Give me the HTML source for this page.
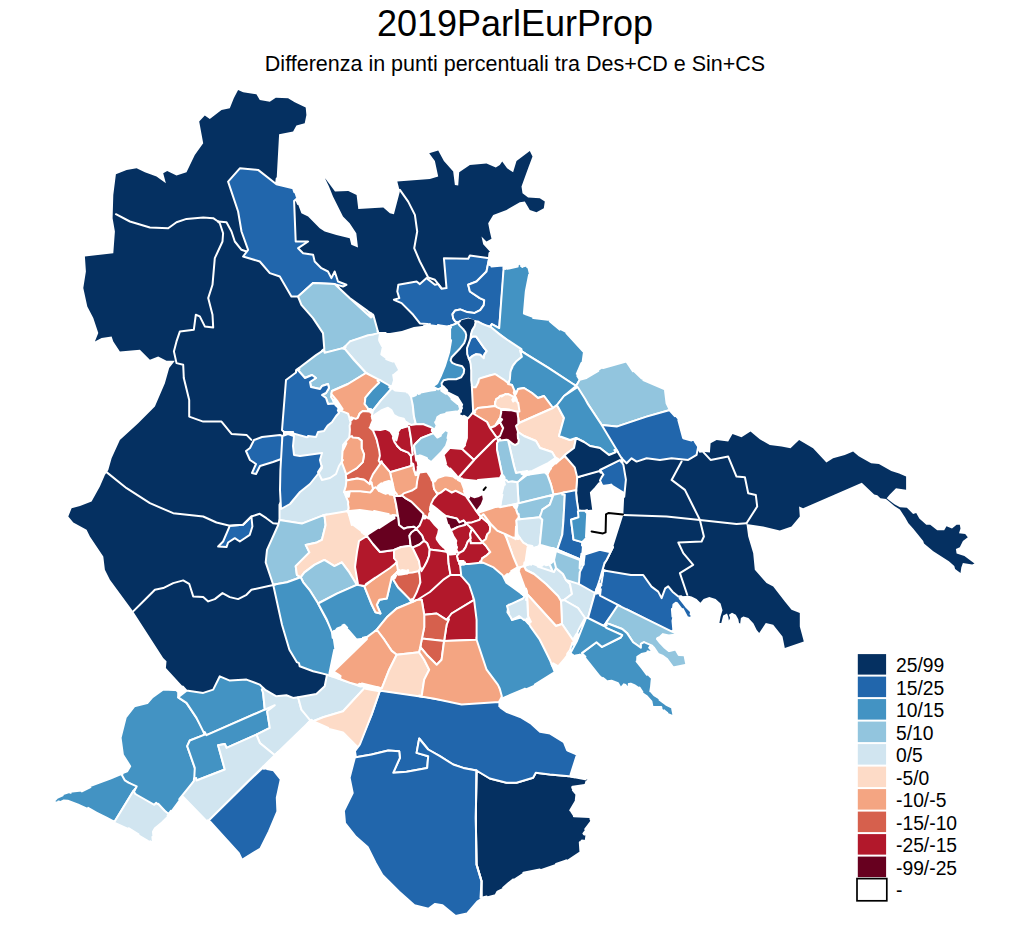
<!DOCTYPE html>
<html><head><meta charset="utf-8"><title>2019ParlEurProp</title>
<style>
html,body{margin:0;padding:0;background:#fff;}
body{width:1030px;height:926px;position:relative;overflow:hidden;font-family:"Liberation Sans",sans-serif;color:#000;}
.t{position:absolute;white-space:nowrap;line-height:1;}
#title{left:0;width:1030px;text-align:center;top:5.5px;font-size:36px;}
#sub{left:0;width:1030px;text-align:center;top:54px;font-size:21.5px;}
.lg{left:896px;font-size:19.3px;}
</style></head><body>
<svg width="1030" height="926" viewBox="0 0 1030 926" style="position:absolute;left:0;top:0">
<g stroke-linejoin="round" stroke-linecap="round">
<polygon points="163.2,658.0 133.2,611.4 109.9,579.8 104.9,569.8 103.3,556.5 89.9,536.5 86.6,529.8 73.3,522.5 68.3,516.5 71.6,508.2 80.0,505.9 91.6,501.5 99.9,486.5 104.9,474.9 108.3,469.9 111.6,458.2 119.9,439.9 138.2,423.3 154.9,406.6 164.9,383.3 169.2,368.1 174.9,360.7 166.5,360.7 158.2,356.4 149.9,359.7 139.9,349.7 119.9,351.4 113.3,341.4 111.6,336.4 101.6,338.1 94.9,341.4 98.3,333.1 93.3,318.1 87.3,306.4 83.3,288.1 85.9,271.5 84.9,256.5 113.3,253.2 114.9,231.5 112.6,218.2 113.3,194.9 115.9,174.2 126.6,169.9 136.6,168.3 144.9,172.2 156.5,176.6 165.9,183.2 163.2,173.2 167.2,170.9 176.5,175.6 186.5,172.2 194.8,154.9 203.2,143.3 199.2,121.6 204.8,115.6 209.8,119.0 221.5,110.0 229.8,108.3 233.8,98.3 238.1,90.0 243.1,92.3 256.4,94.3 259.8,100.0 269.8,101.7 275.8,97.7 288.1,98.3 294.7,102.3 305.7,107.6 306.4,115.0 304.7,123.3 296.4,125.6 293.1,131.6 279.1,134.3 276.4,183.2 263.1,218.2 296.4,284.8 329.7,344.7 296.4,370.0 293.1,393.3 293.1,459.9 286.4,509.9 276.4,559.8 286.4,609.8 296.4,653.0 299.7,666.3 313.1,671.3 327.0,674.6 324.7,686.3 316.4,693.9 298.1,697.3 293.1,697.9 286.4,695.3 276.4,696.3 264.8,689.6 259.8,684.6 246.5,679.6 229.8,680.6 219.8,676.3 213.2,689.6 203.2,692.9 186.5,690.6 165.9,668.0 166.5,661.3" fill="#053061" stroke="none"/>
<polygon points="294.1,200.9 296.4,199.9 301.4,213.2 308.1,216.5 319.7,228.2 324.7,231.5 336.4,234.9 349.7,238.2 351.3,244.8 358.0,247.5 356.3,233.2 349.7,223.2 343.0,216.5 333.0,196.6 329.0,186.6 325.0,178.2 325.7,178.9 335.0,191.6 348.3,190.9 356.6,194.9 358.3,208.9 383.3,207.5 389.9,213.2 393.9,214.2 399.9,191.6 397.3,181.6 429.9,178.9 438.2,176.6 434.9,160.9 429.2,153.3 438.2,150.6 443.9,160.9 453.2,171.6 454.9,184.9 458.2,185.6 459.2,172.2 469.9,164.9 486.5,163.6 495.8,167.6 499.8,164.9 502.2,161.6 507.1,168.3 513.1,172.2 516.5,160.9 529.8,150.9 532.5,156.6 528.1,168.3 521.5,186.6 522.5,193.2 528.1,197.6 539.8,198.2 544.8,201.6 543.8,208.2 536.5,212.2 529.8,209.9 524.8,201.6 519.8,202.2 506.5,209.9 493.2,214.9 488.2,223.2 489.8,231.5 491.5,238.8 486.5,241.5 481.5,236.5 483.2,244.2 489.8,251.5 489.2,258.2 479.8,284.8 466.5,314.8 453.2,319.8 448.2,322.1 429.9,320.8 425.9,325.4 413.9,327.1 401.9,331.1 389.9,333.1 378.3,333.1 373.3,314.8 349.7,298.1 334.7,284.1 296.4,284.8 269.8,234.9 286.4,194.9" fill="#053061" stroke="none"/>
<polygon points="698.2,446.6 699.9,451.6 709.9,452.6 710.6,443.3 716.6,439.9 728.2,441.6 732.5,433.9 741.5,437.3 750.5,431.6 759.8,439.3 769.8,444.9 781.5,446.6 790.5,448.3 799.1,439.9 813.1,448.3 826.4,462.6 833.1,458.3 844.8,454.9 853.1,451.6 858.7,456.3 871.1,463.3 878.9,464.1 891.3,471.1 899.1,473.4 906.1,476.5 906.1,489.8 896.0,488.2 889.8,494.4 886.7,498.3 889.8,500.7 894.4,504.2 899.9,507.3 906.9,507.7 913.1,513.9 916.2,513.1 919.3,518.5 926.3,524.8 930.2,524.8 937.2,530.2 944.2,530.2 946.5,526.3 952.0,528.6 956.6,524.8 959.8,524.8 960.5,528.6 959.0,533.3 965.2,534.1 967.8,537.2 962.9,541.1 959.8,547.3 955.9,548.9 956.6,553.5 964.4,555.9 974.5,563.6 972.2,564.4 962.9,562.9 961.3,567.5 960.5,573.0 955.1,569.1 954.3,566.0 948.9,561.3 933.3,551.2 924.0,543.4 923.2,541.1 913.1,528.6 908.4,523.2 905.3,517.8 899.9,509.5 894.4,505.9 888.5,501.0 886.0,499.1 880.4,498.3 877.3,495.2 874.2,494.4 861.8,482.8 803.1,508.2 799.1,506.5 799.8,516.5 791.5,526.5 779.8,530.5 763.2,526.5 746.5,523.9 748.2,536.5 753.2,553.2 754.8,569.8 766.5,583.1 773.2,586.5 784.8,601.4 791.5,609.8 799.8,613.1 799.8,626.4 803.8,641.4 784.8,648.1 782.5,636.4 773.2,624.8 765.8,623.1 759.2,633.1 756.7,629.9 753.5,623.6 748.4,617.9 743.4,616.6 740.9,617.9 740.2,623.6 739.0,623.0 738.3,619.2 735.8,614.7 732.0,612.8 728.9,614.7 730.1,617.9 728.9,620.4 728.2,616.6 727.0,613.5 723.2,615.4 721.3,623.0 719.4,623.0 720.6,616.6 722.5,610.3 720.6,603.4 715.6,599.0 709.3,597.1 703.6,599.0 700.4,602.7 696.6,599.0 691.6,596.4 688.4,595.8 678.3,596.5 668.3,588.1 661.6,598.1 653.3,593.1 640.0,576.5 600.0,569.8 606.7,559.8 613.3,546.5 623.3,514.9 625.0,479.9 621.6,458.3 626.6,463.3 631.6,458.3 636.6,461.6 646.6,458.3 659.9,459.9 671.6,458.3 688.2,459.9 696.6,454.9" fill="#053061" stroke="none"/>
<path d="M535.8,772.8 L533.1,777.8 L516.5,782.8 L506.5,782.8 L489.8,778.5 L476.5,770.5 L475.8,817.8 L476.5,864.4 L481.5,881.1 L481.5,897.7 L477.1,900.8 L482.1,898.6 L495.5,895.2 L497.5,891.6 L503.7,888.6 L513.7,880.2 L523.3,873.8 L540.0,870.4 L566.8,861.3 L581.4,851.6 L581.0,842.0 L581.6,841.7 L586.6,842.2 L587.5,835.4 L583.9,834.2 L583.4,833.5 L592.5,821.3 L590.4,816.2 L574.0,815.2 L573.4,814.8 L571.1,811.1 L576.7,801.5 L577.4,794.2 L572.3,787.8 L572.2,787.1 L572.8,786.7 L586.5,784.7 L588.3,778.7 L571.2,775.5 L570.6,775.1 L570.7,771.0 L569.1,776.2 L549.8,774.5ZM590.4,818.9 L590.8,819.6 L591.4,821.1ZM591.4,821.1 L591.2,821.3 L585.3,829.2ZM573.9,816.2 L589.5,817.1 L589.7,817.1ZM586.4,781.5 L586.0,782.8 L585.7,783.8ZM585.7,841.1 L585.5,841.1 L581.6,840.7ZM585.7,841.1 L586.3,836.4 L586.1,838.5ZM586.3,836.4 L586.4,836.1 L586.4,836.3ZM570.8,776.5 L582.2,778.6 L585.4,779.2ZM579.8,842.3 L580.4,850.9 L580.4,851.1ZM572.9,790.1 L576.2,794.2 L576.4,794.5ZM576.4,794.5 L576.1,797.8 L575.8,800.1ZM575.7,801.2 L575.6,801.3 L570.3,810.3ZM566.4,860.4 L566.3,860.5 L556.1,863.9ZM539.8,869.4 L539.7,869.4 L523.4,872.7ZM513.1,879.5 L508.3,883.4 L503.2,887.7Z" fill="#053061" fill-rule="evenodd" stroke="#FFFFFF" stroke-width="2.0"/>
<path d="M239.8,168.3 L228.1,181.6 L238.1,211.5 L241.5,231.5 L248.1,249.8 L243.1,256.5 L259.8,261.5 L269.8,273.1 L279.8,276.5 L291.4,296.5 L298.1,296.5 L313.1,283.1 L334.7,284.1 L343.0,286.5 L346.4,284.8 L338.0,281.5 L334.7,271.5 L331.4,278.1 L328.0,271.5 L321.4,268.2 L314.7,261.5 L313.1,254.8 L303.1,253.2 L298.1,248.2 L308.1,241.5 L295.7,241.5 L294.1,200.9 L296.4,199.9 L297.9,204.0 L297.3,196.8 L296.9,197.1 L293.9,187.4 L277.7,183.4 L276.7,178.5 L276.1,184.0 L258.1,169.9ZM294.1,200.9 L296.4,198.9 L296.3,198.9ZM276.4,184.2 L277.7,184.5 L293.1,188.2ZM293.1,188.2 L293.1,188.4 L294.4,192.3ZM334.7,284.1 L334.7,284.1 L338.8,288.0Z" fill="#2166AC" fill-rule="evenodd" stroke="#FFFFFF" stroke-width="2.0"/>
<path d="M313.0,283.1 L298.0,296.5 L301.4,304.8 L313.0,318.1 L323.0,333.1 L324.3,348.8 L321.9,350.7 L322.1,353.3 L322.5,354.0 L324.6,352.8 L324.6,351.8 L324.7,353.1 L342.0,348.4 L344.4,349.0 L345.2,349.9 L345.4,349.6 L344.4,348.4 L350.0,342.0 L354.3,340.1 L350.0,341.4 L373.6,334.4 L380.0,333.6 L379.2,338.7 L381.0,334.3 L381.6,333.8 L381.6,333.1 L378.3,333.1 L373.4,315.3 L372.8,314.4 L372.6,314.3 L372.6,316.5 L371.9,316.9 L369.2,314.4 L369.5,313.7 L371.4,313.4 L369.9,312.6 L369.1,312.7 L369.5,312.7 L366.7,310.2 L349.7,298.1 L334.7,284.1 L349.6,298.1 L334.7,284.1ZM349.6,298.1 L368.7,315.4 L371.0,317.5Z" fill="#92C5DE" fill-rule="evenodd" stroke="#FFFFFF" stroke-width="2.0"/>
<path d="M451.2,325.4 L455.2,324.1 L459.9,321.4 L457.5,322.4 L455.2,321.4 L453.2,318.4 L452.5,314.1 L455.2,310.4 L460.2,309.4 L467.2,312.1 L474.2,313.1 L480.2,310.1 L483.8,305.1 L484.2,300.1 L479.8,298.1 L469.9,291.5 L468.2,284.8 L476.5,281.5 L486.5,271.5 L489.2,258.2 L469.9,255.5 L468.2,258.8 L443.9,258.2 L446.5,288.1 L441.5,288.8 L438.2,284.1 L434.9,284.8 L426.6,278.1 L419.9,284.1 L416.6,281.5 L398.3,284.8 L397.3,291.5 L399.3,298.1 L393.9,299.8 L401.6,303.1 L413.2,314.8 L419.9,323.4 L427.2,323.9 L425.9,325.4 L424.4,325.6 L422.7,327.6 L423.3,328.2 L428.0,325.0 L447.3,327.4 L450.7,326.7 L451.1,327.3 L450.2,329.5 L451.1,329.2 L455.1,324.1ZM451.2,325.4 L450.2,325.7 L448.2,326.2ZM440.2,325.4 L437.9,325.1 L440.2,325.4ZM440.2,325.4 L447.2,326.4 L447.1,326.4ZM429.9,324.1 L429.9,324.1 L429.9,324.1ZM428.0,324.0 L428.0,324.0 L427.3,324.1ZM489.2,258.2 L489.8,266.5 L490.3,265.9 L490.0,265.7 L491.2,266.3 L491.4,265.5 L490.8,265.1 L490.1,263.1 L490.2,253.1 L489.7,253.0Z" fill="#2166AC" fill-rule="evenodd" stroke="#FFFFFF" stroke-width="2.0"/>
<path d="M489.2,258.2 L486.5,271.5 L476.5,281.5 L468.2,284.8 L469.9,291.5 L479.8,298.1 L484.2,300.1 L483.8,305.1 L480.2,310.1 L474.2,313.1 L467.2,312.1 L460.2,309.4 L455.2,310.4 L452.5,314.1 L453.2,318.4 L455.2,321.4 L457.5,322.4 L455.5,323.9 L462.2,320.1 L468.2,318.6 L482.8,324.1 L491.1,328.9 L492.1,328.1 L490.5,326.8 L491.8,324.1 L499.2,328.1 L503.8,271.5 L507.2,268.8 L507.2,268.1 L505.3,268.9 L504.7,268.6 L504.9,264.4 L491.1,265.3 L490.7,264.7 L490.2,258.3 L490.2,253.1 L489.7,253.0ZM491.4,266.4 L499.5,265.8 L500.0,265.8ZM500.0,265.8 L503.6,265.5 L503.8,265.5ZM503.8,265.5 L503.8,265.7 L503.6,268.2ZM489.2,258.3 L489.5,262.4 L489.7,264.9ZM455.0,324.2 L455.1,324.2 L455.1,324.1ZM451.7,327.3 L452.1,326.7 L451.1,325.8 L450.9,326.0Z" fill="#2166AC" fill-rule="evenodd" stroke="#FFFFFF" stroke-width="2.0"/>
<path d="M503.6,268.3 L499.2,328.1 L491.8,324.1 L489.8,326.8 L488.1,326.1 L488.0,326.9 L503.0,336.9 L520.1,350.4 L548.1,367.7 L576.0,386.0 L573.9,387.7 L575.5,388.4 L577.0,387.4 L576.1,386.0 L579.7,379.7 L584.0,378.6 L580.2,378.4 L577.7,374.6 L582.4,363.3 L584.1,351.1 L567.0,332.3 L560.2,328.8 L548.5,318.8 L533.5,317.1 L525.1,314.1 L526.8,291.7 L530.1,274.8 L527.9,265.3 L523.4,266.3 L519.7,263.5 L517.3,265.6 L506.7,267.9 L505.3,268.9 L504.7,268.6 L504.3,266.5 L503.7,267.0 L503.8,269.1ZM566.4,333.1 L566.5,333.2 L583.1,351.4ZM581.4,363.1 L581.4,363.2 L576.8,373.9ZM549.8,321.2 L552.1,323.2 L559.6,329.6ZM533.3,318.1 L547.9,319.7 L548.1,319.8ZM529.1,274.8 L527.3,284.1 L525.8,291.4ZM527.1,266.5 L527.2,266.7 L527.3,267.2ZM525.8,291.5 L524.7,304.2 L523.9,313.5ZM521.1,265.9 L522.0,266.6 L522.5,267.0ZM507.1,268.8 L507.3,268.8 L517.7,266.6Z" fill="#4393C3" fill-rule="evenodd" stroke="#FFFFFF" stroke-width="2.0"/>
<path d="M576.1,386.0 L573.9,384.6 L576.0,386.0 L574.0,387.6 L574.8,388.8 L577.0,387.4 L601.7,425.0 L616.7,426.6 L646.6,416.6 L669.9,410.6 L672.7,413.8 L670.7,408.7 L667.5,402.8 L665.9,388.6 L641.3,378.1 L641.5,378.4 L633.7,370.7 L626.8,360.2 L602.6,367.1 L585.9,377.1 L580.2,378.4 L577.3,376.0 L579.7,379.7ZM646.6,416.6 L669.9,410.0 L669.9,410.0ZM669.9,410.0 L666.6,403.3 L666.7,403.6ZM666.6,403.3 L664.9,389.3 L666.6,403.0ZM664.9,389.3 L643.3,380.0 L643.5,380.1ZM579.7,379.7 L586.2,378.1 L586.4,378.0ZM586.4,378.0 L596.4,372.0 L598.3,370.9ZM603.1,368.1 L626.1,361.5 L626.4,361.4ZM626.4,361.4 L626.5,361.6 L632.9,371.2ZM603.3,427.8 L588.0,404.2 L592.8,413.0 L602.7,427.7Z" fill="#92C5DE" fill-rule="evenodd" stroke="#FFFFFF" stroke-width="2.0"/>
<path d="M698.2,446.6 L699.9,451.6 L700.0,451.2 L700.9,451.7 L701.0,451.0 L699.0,448.0 L699.3,446.4 L695.5,440.7 L684.2,437.4 L679.2,419.5 L671.1,410.5 L670.7,408.7 L669.5,409.1 L669.9,410.0 L646.6,416.6 L616.7,426.6 L601.7,425.0 L600.3,422.8 L599.9,423.2 L601.6,425.6 L619.9,460.1 L622.3,462.6 L621.6,458.3 L626.6,463.3 L631.6,458.3 L636.6,461.6 L646.6,458.3 L659.9,459.9 L671.6,458.3 L688.2,459.9 L696.6,454.9ZM694.9,441.6 L698.2,446.5 L698.2,446.6ZM678.3,420.0 L683.0,437.4 L683.3,438.3ZM683.3,438.3 L688.6,439.8 L691.5,440.6ZM669.9,410.6 L670.3,411.0 L674.8,416.1Z" fill="#2166AC" fill-rule="evenodd" stroke="#FFFFFF" stroke-width="2.0"/>
<path d="M651.5,586.6 L643.2,575.0 L630.9,575.0 L602.4,570.2 L599.3,581.1 L599.0,583.1 L599.4,582.8 L598.8,583.2 L598.0,584.8 L599.7,583.8 L600.4,584.2 L599.3,593.1 L598.7,593.7 L595.8,593.0 L596.5,593.8 L600.0,595.6 L599.9,596.3 L617.9,605.1 L616.5,607.3 L617.8,607.9 L618.3,607.2 L623.2,610.6 L625.9,611.9 L626.9,609.5 L674.3,633.7 L672.6,633.9 L677.3,636.3 L677.7,635.7 L673.5,631.7 L672.5,620.8 L673.5,616.7 L672.9,609.1 L673.5,604.5 L675.8,602.8 L676.8,602.9 L682.0,609.6 L686.5,618.1 L691.0,619.1 L691.9,612.6 L685.9,606.5 L679.7,598.5 L679.8,597.5 L681.8,596.8 L681.2,596.3 L678.3,596.5 L672.5,591.7 L668.2,586.3 L665.2,588.3 L661.6,598.1 L658.2,591.6ZM690.8,612.9 L690.8,613.1 L690.6,614.3ZM687.2,617.3 L690.2,617.9 L689.9,617.9ZM687.2,617.3 L687.1,617.1 L682.9,609.1ZM671.9,609.1 L672.5,616.5 L672.5,616.6Z" fill="#2166AC" fill-rule="evenodd" stroke="#FFFFFF" stroke-width="2.0"/>
<path d="M379.7,691.2 L371.6,714.6 L358.3,746.2 L354.5,742.5 L357.0,746.7 L353.9,750.9 L354.9,756.9 L354.7,762.2 L355.9,757.2 L371.6,754.5 L388.2,750.5 L399.2,751.2 L399.9,757.9 L393.2,772.8 L406.6,771.8 L427.2,767.9 L428.2,756.2 L416.6,752.9 L419.2,738.5 L428.2,749.5 L439.9,756.2 L453.2,764.5 L463.2,767.9 L476.5,770.5 L489.8,778.5 L506.5,782.8 L516.5,782.8 L533.1,777.8 L535.8,772.8 L549.8,774.5 L569.1,776.2 L574.4,777.2 L570.8,775.3 L570.6,774.6 L577.0,754.6 L567.6,750.6 L567.0,750.0 L563.9,742.2 L550.1,733.6 L540.0,731.7 L530.4,723.1 L520.2,717.0 L507.0,712.1 L500.6,707.7 L500.2,706.9 L500.9,700.2 L501.6,699.4 L503.6,699.2 L503.2,698.0 L502.2,698.3 L501.6,696.9 L499.6,700.9 L499.8,698.6 L473.2,702.6 L446.5,700.6 L434.5,698.7 L421.7,695.9 L386.8,690.9 L381.8,688.4 L378.1,687.5 L377.2,687.6 L379.4,689.0 L379.5,689.5 L375.8,690.5Z" fill="#2166AC" fill-rule="evenodd" stroke="#FFFFFF" stroke-width="2.0"/>
<path d="M481.5,881.1 L476.5,864.4 L475.8,817.8 L476.5,770.5 L463.2,767.9 L453.2,764.5 L439.9,756.2 L428.2,749.5 L419.2,738.5 L416.6,752.9 L428.2,756.2 L427.2,767.9 L406.6,771.8 L393.2,772.8 L399.9,757.9 L399.2,751.2 L388.2,750.5 L371.6,754.5 L355.9,757.2 L355.1,752.1 L354.9,757.4 L349.6,777.8 L352.7,793.0 L343.9,810.9 L345.0,823.2 L355.9,836.8 L367.6,846.9 L375.7,863.2 L382.4,875.0 L399.2,891.8 L414.4,905.3 L428.4,908.8 L435.1,903.9 L442.5,905.3 L455.6,916.1 L467.0,913.6 L477.3,901.7 L481.7,898.8 L486.7,896.6 L481.5,897.7Z" fill="#2166AC" fill-rule="evenodd" stroke="#FFFFFF" stroke-width="2.0"/>
<path d="M122.1,778.8 L135.9,787.2 L133.5,790.8 L133.9,791.5 L133.2,792.8 L135.3,794.0 L139.6,799.4 L153.7,805.4 L154.3,804.8 L154.9,805.1 L157.5,804.1 L168.2,814.5 L168.6,814.0 L168.9,814.2 L167.7,815.4 L168.3,816.0 L168.7,815.4 L169.3,815.9 L170.0,813.7 L182.1,797.0 L182.8,796.7 L184.0,797.7 L184.6,796.9 L183.8,796.2 L193.8,781.2 L196.5,780.5 L194.8,767.9 L187.2,746.2 L189.8,740.5 L204.8,734.6 L206.5,735.2 L196.5,717.9 L186.5,702.9 L178.2,697.3 L183.6,692.9 L179.8,694.5 L179.2,693.8 L179.2,690.3 L162.9,689.6 L152.5,697.2 L147.3,703.1 L134.3,706.4 L125.7,717.5 L120.6,737.8 L122.9,754.9 L130.2,766.2 L127.2,771.2 L122.0,773.3 L121.4,772.2 L120.9,773.7 L120.1,774.0 L120.4,774.6 L117.7,774.9 L118.6,776.1 L119.6,775.7Z" fill="#4393C3" fill-rule="evenodd" stroke="#FFFFFF" stroke-width="2.0"/>
<path d="M178.2,697.3 L186.5,702.9 L196.5,717.9 L204.8,734.6 L206.5,735.2 L264.8,709.6 L263.1,692.9 L264.7,689.8 L264.4,689.3 L259.8,684.6 L246.5,679.6 L229.8,680.6 L219.8,676.3 L213.2,689.6 L203.2,692.9 L186.5,690.6ZM178.2,697.3 L185.2,691.7 L186.5,690.6 L182.9,686.6 L184.7,690.6 L180.3,694.3 L179.3,694.2 L177.8,688.9 L177.2,689.0 L177.2,691.2 L178.2,691.3Z" fill="#4393C3" fill-rule="evenodd" stroke="#FFFFFF" stroke-width="2.0"/>
<path d="M224.8,769.5 L218.1,745.2 L224.8,743.9 L226.5,747.9 L256.4,734.6 L269.8,727.9 L267.1,711.2 L274.8,705.2 L206.5,735.2 L204.7,732.1 L203.7,732.2 L204.8,734.6 L189.8,740.5 L187.2,746.2 L194.8,767.9 L194.1,781.1 L196.5,780.5Z" fill="#4393C3" fill-rule="evenodd" stroke="#FFFFFF" stroke-width="2.0"/>
<path d="M274.8,755.2 L271.2,758.7 L271.9,759.4 L310.9,721.5 L311.5,721.3 L316.3,724.0 L316.7,723.5 L315.4,722.1 L313.1,721.2 L301.4,709.6 L298.1,697.3 L293.1,697.9 L286.4,695.3 L276.4,696.3 L264.8,689.6 L263.1,687.9 L261.8,689.7 L263.1,692.9 L264.8,709.6 L274.8,705.2 L267.1,711.2 L269.8,727.9 L256.4,734.6 L259.8,742.9ZM274.8,755.2 L310.4,720.6 L274.8,755.2Z" fill="#D1E5F0" fill-rule="evenodd" stroke="#FFFFFF" stroke-width="2.0"/>
<path d="M256.4,734.6 L226.5,747.9 L224.8,743.9 L218.1,745.2 L224.8,769.5 L196.5,780.5 L196.2,777.9 L194.0,778.4 L193.8,781.2 L179.3,799.1 L182.5,796.7 L183.2,796.9 L206.7,821.1 L204.3,823.5 L204.7,824.0 L207.9,822.3 L208.1,822.6 L209.5,821.4 L213.4,823.6 L210.5,820.5 L249.8,783.6 L263.7,769.8 L262.9,769.5 L263.7,769.8 L265.5,769.4 L263.5,768.7 L263.5,767.7 L279.0,752.4 L278.3,751.7 L274.8,755.2 L259.8,742.9ZM274.8,755.2 L262.7,767.1 L208.2,821.1Z" fill="#D1E5F0" fill-rule="evenodd" stroke="#FFFFFF" stroke-width="2.0"/>
<path d="M316.4,693.9 L298.1,697.3 L301.4,709.6 L310.4,720.6 L307.5,723.4 L311.2,721.3 L312.8,722.4 L317.2,722.9 L313.3,721.2 L323.3,717.2 L343.3,711.2 L364.6,688.6 L370.1,689.6 L366.1,687.9 L366.4,687.5 L365.3,687.1 L364.9,686.3 L364.4,686.8 L358.9,684.7 L358.9,683.9 L360.6,683.0 L358.5,683.0 L344.3,678.4 L341.2,676.9 L341.3,677.4 L341.1,676.6 L339.8,675.5 L340.3,677.4 L340.1,677.9 L339.4,677.9 L330.6,674.8 L330.1,674.3 L330.8,672.7 L329.6,672.4 L329.4,673.4 L325.6,672.6 L324.5,674.0 L327.0,674.6 L324.7,686.3ZM327.0,674.6 L330.2,675.7 L360.9,686.6ZM343.0,711.2 L364.7,687.9 L364.6,688.0ZM313.1,721.2 L313.3,721.3 L313.1,721.2Z" fill="#D1E5F0" fill-rule="evenodd" stroke="#FFFFFF" stroke-width="2.0"/>
<path d="M382.3,690.9 L382.2,690.0 L379.4,687.8 L378.8,687.6 L379.5,689.6 L378.5,690.0 L366.1,687.8 L364.9,686.3 L363.6,687.6 L364.7,687.9 L343.0,711.2 L323.0,717.2 L313.1,721.2 L311.5,719.7 L309.9,721.0 L309.9,722.0 L311.2,721.3 L316.3,724.0 L316.5,723.7 L328.0,728.8 L343.0,732.4 L356.7,746.1 L357.0,746.7 L355.1,750.9 L359.9,744.5 L371.6,714.6 L379.9,690.6ZM365.8,688.8 L372.2,689.9 L378.5,691.0ZM328.3,727.9 L321.0,724.6 L313.5,721.3ZM355.0,751.8 L355.0,751.4 L355.0,751.3 L354.8,751.7Z" fill="#FDDBC7" fill-rule="evenodd" stroke="#FFFFFF" stroke-width="2.0"/>
<path d="M114.5,821.8 L133.5,790.8 L133.9,791.5 L136.7,786.4 L128.4,782.6 L124.9,780.5 L121.6,774.5 L122.5,774.1 L121.4,772.2 L120.4,774.6 L119.9,774.5 L110.4,778.6 L90.1,786.1 L81.6,790.4 L70.1,791.8 L62.4,794.3 L56.4,797.0 L53.6,800.3 L55.3,802.3 L59.1,802.6 L63.9,800.5 L67.7,800.7 L77.6,804.4 L87.5,808.8 L96.4,813.8 L114.9,823.1 L115.5,822.2ZM96.9,813.0 L107.0,818.0 L96.9,813.0ZM107.0,818.0 L114.5,821.8 L114.5,821.8ZM96.9,813.0 L96.8,812.9 L88.1,807.9ZM81.9,791.4 L90.4,787.1 L90.5,787.1ZM70.3,792.7 L70.4,792.7 L70.8,792.7ZM55.3,799.9 L56.9,797.9 L57.1,797.8ZM57.1,797.8 L62.7,795.3 L62.7,795.3ZM59.0,801.6 L58.7,801.6 L58.2,801.5Z" fill="#4393C3" fill-rule="evenodd" stroke="#FFFFFF" stroke-width="2.0"/>
<path d="M135.0,789.0 L133.5,790.8 L114.5,821.8 L113.6,821.4 L113.1,822.2 L128.0,829.0 L146.9,840.4 L154.3,845.3 L153.0,831.8 L154.7,828.6 L162.0,822.5 L170.4,814.2 L170.0,813.8 L170.9,810.8 L168.6,814.0 L164.7,810.8 L158.2,803.8 L157.5,804.1 L156.2,802.8 L154.3,804.8 L135.3,794.0 L133.9,791.5ZM168.9,814.2 L168.7,814.4 L167.6,815.5ZM152.4,837.0 L152.4,837.0 L152.4,837.0ZM152.4,837.0 L153.1,843.1 L153.1,843.3ZM153.1,843.3 L152.9,843.2 L150.1,841.3ZM138.5,834.4 L138.5,834.4 L128.5,828.2Z" fill="#D1E5F0" fill-rule="evenodd" stroke="#FFFFFF" stroke-width="2.0"/>
<path d="M248.0,781.7 L208.2,821.1 L207.5,820.4 L204.3,823.5 L204.7,824.0 L209.5,821.4 L210.2,821.6 L238.8,853.2 L242.0,859.9 L260.5,848.5 L269.0,831.5 L277.4,811.3 L276.8,797.8 L280.8,779.3 L273.6,770.3 L266.9,768.9 L268.0,767.8 L263.8,768.8 L263.3,768.4 L263.2,766.6 L262.3,768.3Z" fill="#2166AC" fill-rule="evenodd" stroke="#FFFFFF" stroke-width="2.0"/>
<path d="M250.0,460.0 L256.0,464.0 L252.0,473.0 L256.0,474.0 L260.0,466.0 L273.0,462.0 L284.0,458.0 L283.6,448.0 L282.4,436.0 L280.0,435.0 L262.0,437.0 L254.0,440.0 L250.0,448.0 L246.0,451.0Z" fill="#2166AC" fill-rule="evenodd" stroke="#FFFFFF" stroke-width="2.0"/>
<path d="M223.1,541.5 L218.1,546.5 L226.5,547.1 L228.1,542.5 L234.8,538.2 L239.8,541.5 L249.8,534.8 L252.4,526.5 L251.4,516.5 L243.1,524.8 L229.8,525.8Z" fill="#2166AC" fill-rule="evenodd" stroke="#FFFFFF" stroke-width="2.0"/>
<path d="M282.0,499.7 L279.5,504.7 L279.5,519.9 L301.9,523.7 L324.4,515.0 L331.9,515.0 L348.1,511.2 L349.2,515.3 L349.3,511.4 L353.1,509.6 L349.0,510.0 L348.7,508.0 L349.3,504.7 L348.3,502.1 L349.3,494.9 L348.9,494.0 L348.0,496.3 L347.2,496.4 L346.0,493.4 L348.6,491.9 L344.3,492.2 L348.1,479.7 L346.3,474.4 L348.6,473.1 L348.1,471.4 L345.8,472.2 L343.3,463.4 L342.6,451.0 L346.4,443.2 L351.4,438.8 L351.9,437.5 L352.0,436.2 L350.2,433.1 L349.9,429.9 L350.4,424.1 L353.4,419.6 L353.5,418.8 L351.6,420.1 L351.0,419.9 L350.9,418.5 L353.3,418.5 L353.1,418.1 L351.5,417.3 L347.7,412.8 L342.6,409.1 L340.3,405.5 L341.6,409.5 L340.9,410.1 L339.0,410.0 L335.8,405.5 L335.1,405.9 L337.0,408.0 L338.7,412.1 L336.3,415.7 L332.0,420.0 L327.7,425.5 L321.9,429.8 L309.2,436.2 L308.0,436.0 L298.0,432.0 L293.1,432.0 L293.1,433.4 L284.0,432.3ZM349.7,419.3 L349.8,419.6 L349.9,420.0Z" fill="#D1E5F0" fill-rule="evenodd" stroke="#FFFFFF" stroke-width="2.0"/>
<path d="M282.4,436.0 L280.4,470.0 L280.0,490.0 L281.0,509.0 L290.0,504.0 L300.0,492.0 L310.0,484.0 L318.0,474.0 L322.0,468.0 L320.0,460.0 L322.0,453.0 L300.0,456.0 L294.0,455.0 L293.0,446.0 L294.0,436.0 L288.0,434.0ZM295.2,433.8 L293.1,432.9 L293.1,433.4Z" fill="#2166AC" fill-rule="evenodd" stroke="#FFFFFF" stroke-width="2.0"/>
<path d="M368.0,335.2 L350.0,341.4 L343.3,348.1 L342.0,348.4 L344.4,349.0 L366.0,373.0 L363.8,374.4 L366.0,373.1 L378.0,381.0 L379.3,382.5 L382.4,381.9 L393.3,390.4 L394.1,390.5 L392.6,388.5 L395.0,380.1 L394.2,374.5 L399.3,370.3 L394.7,361.2 L386.6,358.1 L381.3,354.5 L383.1,345.9 L380.2,340.1 L380.8,334.7 L381.2,334.2 L385.7,333.1 L378.3,333.1 L373.6,334.4ZM393.2,374.9 L394.0,379.8 L394.0,380.0ZM394.0,380.2 L392.1,386.8 L392.0,387.0ZM386.2,359.1 L389.9,360.5 L392.9,361.6ZM379.2,340.5 L381.9,345.8 L382.0,346.0ZM379.9,334.4 L379.6,336.1 L379.1,339.5ZM378.3,333.1 L377.8,331.3 L377.5,331.3Z" fill="#D1E5F0" fill-rule="evenodd" stroke="#FFFFFF" stroke-width="2.0"/>
<path d="M328.0,404.0 L333.0,404.0 L337.0,408.0 L337.6,409.6 L337.9,409.3 L335.2,404.6 L336.0,404.5 L335.4,403.4 L335.7,402.5 L335.0,402.6 L333.9,400.2 L334.4,399.7 L336.3,400.0 L335.1,398.8 L334.3,398.7 L334.8,398.7 L334.0,397.2 L331.5,394.2 L332.0,391.0 L347.9,384.0 L366.0,373.1 L367.9,374.3 L368.1,374.1 L366.0,373.0 L354.0,360.0 L344.4,348.4 L345.7,346.9 L345.0,346.5 L343.3,348.1 L342.0,348.4 L344.4,349.0 L342.0,348.4 L324.6,352.8 L324.4,350.2 L322.6,350.8 L316.0,355.1 L296.4,370.0 L296.1,371.8 L296.4,372.2 L298.0,371.0 L305.0,378.0 L312.0,375.0 L316.0,378.0 L310.0,382.0 L311.0,387.0 L320.0,389.0 L322.0,386.0 L328.0,384.0 L329.0,388.0 L326.0,393.0 L322.0,395.0 L326.0,398.0ZM328.0,404.0 L334.4,403.6 L334.3,403.6Z" fill="#92C5DE" fill-rule="evenodd" stroke="#FFFFFF" stroke-width="2.0"/>
<path d="M339.3,411.1 L342.0,410.7 L341.6,409.9 L340.3,410.3 L339.0,410.0 L337.9,407.4 L335.4,405.0 L335.2,404.3 L335.7,402.5 L333.9,402.6 L334.4,403.6 L328.0,404.0 L326.0,398.0 L322.0,395.0 L326.0,393.0 L329.0,388.0 L328.0,384.0 L322.0,386.0 L320.0,389.0 L311.0,387.0 L310.0,382.0 L316.0,378.0 L312.0,375.0 L305.0,378.0 L298.0,370.0 L299.5,369.0 L298.4,368.5 L296.4,370.0 L296.0,372.5 L286.0,380.0 L282.0,430.0 L284.0,432.0 L293.1,432.0 L293.1,433.4 L306.9,437.3 L309.2,436.2 L308.0,436.0 L316.0,437.0 L318.0,432.0 L324.0,431.0 L327.7,425.5 L331.9,422.3 L336.3,415.7 L339.0,413.0 L337.8,410.1 L338.7,412.1Z" fill="#2166AC" fill-rule="evenodd" stroke="#FFFFFF" stroke-width="2.0"/>
<path d="M599.7,469.8 L599.9,470.0 L597.5,470.8 L597.6,471.3 L599.7,471.0 L602.2,476.0 L599.7,479.7 L600.0,480.4 L599.7,481.0 L595.9,485.7 L599.6,483.1 L600.2,483.6 L601.5,487.1 L612.3,485.9 L622.9,492.4 L624.2,496.8 L625.9,479.7 L623.4,464.8 L622.5,463.5 L621.6,458.1 L620.2,457.2 L618.5,457.4 L620.0,460.0 L619.6,459.8ZM602.2,486.0 L602.1,485.8 L601.0,483.1ZM602.2,486.0 L602.4,485.9 L602.4,485.9ZM602.4,485.9 L611.6,484.8 L602.6,485.9Z" fill="#2166AC" fill-rule="evenodd" stroke="#FFFFFF" stroke-width="2.0"/>
<path d="M576.0,492.2 L578.1,513.3 L585.2,512.9 L587.2,513.4 L585.8,512.1 L586.0,511.3 L593.3,510.6 L590.9,492.6 L595.4,487.9 L599.3,483.2 L599.9,483.3 L603.2,487.6 L603.8,487.3 L603.2,485.8 L602.2,486.0 L600.0,480.4 L601.6,477.2 L603.4,474.7 L599.9,470.0 L578.0,477.0 L577.5,474.5 L576.6,474.7 L577.2,477.2 L576.0,489.7 L573.7,490.2 L573.5,492.8ZM587.2,513.4 L587.2,513.7 L587.5,513.7Z" fill="#053061" fill-rule="evenodd" stroke="#FFFFFF" stroke-width="2.0"/>
<path d="M547.3,474.7 L551.0,484.7 L553.5,494.7 L564.8,494.7 L576.1,492.3 L577.2,477.2 L579.7,476.5 L579.7,476.5 L578.0,477.0 L576.0,466.0 L566.0,454.0 L559.7,459.8 L555.4,457.4 L557.6,459.9 L557.4,460.7 L549.0,469.2 L547.2,472.5 L546.7,472.6 L542.0,469.8 L541.5,470.4 L543.6,472.4 L544.8,472.2Z" fill="#F4A582" fill-rule="evenodd" stroke="#FFFFFF" stroke-width="2.0"/>
<path d="M518.6,503.4 L553.5,494.7 L551.0,484.7 L547.3,474.7 L549.8,469.8 L551.0,468.5 L550.7,468.4 L546.9,472.6 L545.1,471.2 L544.5,471.3 L542.0,469.8 L541.5,470.4 L542.7,471.5 L526.9,473.8 L524.8,475.2 L523.7,474.9 L523.0,475.6 L524.0,476.0 L520.0,480.0 L515.5,480.7 L515.0,481.8 L517.3,482.2ZM547.3,474.7 L544.8,472.2 L544.9,472.4ZM544.8,472.2 L527.3,474.7 L527.5,474.7ZM517.6,505.6 L518.6,503.4 L515.2,504.1 L515.6,505.0 L516.4,505.2 L516.5,506.4 L517.3,506.6 L517.6,505.3ZM553.5,494.7 L556.0,494.7 L556.0,494.1Z" fill="#92C5DE" fill-rule="evenodd" stroke="#FFFFFF" stroke-width="2.0"/>
<path d="M518.6,503.4 L517.3,482.2 L506.7,480.3 L503.6,476.1 L502.7,475.5 L503.7,478.1 L503.5,478.7 L502.3,478.5 L503.8,485.0 L501.4,494.5 L499.1,506.0 L498.8,506.4 L494.4,508.5 L496.0,507.9 L513.7,506.0 L514.4,507.1 L515.6,507.7 L514.9,505.8 L515.1,505.3 L515.8,505.0 L516.6,505.5 L516.3,507.6 L517.2,506.8ZM499.9,507.2 L500.0,506.3 L502.4,494.7ZM499.9,507.2 L518.6,503.4 L515.7,504.0ZM504.9,484.7 L504.8,484.3 L503.9,480.8ZM517.3,482.2 L519.3,480.5 L518.8,480.2 L512.2,481.3Z" fill="#D1E5F0" fill-rule="evenodd" stroke="#FFFFFF" stroke-width="2.0"/>
<path d="M515.7,504.0 L514.1,504.9 L516.4,505.2 L516.1,506.7 L515.5,506.7 L513.9,505.3 L513.8,505.9 L515.0,507.9 L515.6,513.0 L517.6,513.8 L516.1,509.7 L518.5,516.0 L518.1,518.0 L517.0,519.6 L519.7,519.3 L519.8,519.7 L539.8,517.2 L541.4,518.7 L542.3,517.9 L542.3,509.7 L549.8,504.7 L553.5,494.7ZM553.5,494.7 L556.0,494.7 L556.0,494.2Z" fill="#92C5DE" fill-rule="evenodd" stroke="#FFFFFF" stroke-width="2.0"/>
<path d="M517.3,534.6 L516.2,521.0 L515.6,535.7 L515.0,535.6 L515.4,535.7 L514.3,536.4 L514.5,537.8 L516.0,536.6 L517.5,536.4 L518.8,538.8 L518.4,539.1 L515.9,538.7 L516.5,539.5 L523.5,542.8 L524.8,544.6 L527.0,545.0 L526.2,550.4 L528.1,546.4 L537.6,548.2 L540.1,545.9 L544.4,545.9 L539.8,544.6 L542.3,519.7 L542.3,516.0 L540.5,514.9 L539.8,517.2 L519.7,519.3 L518.8,516.8 L518.3,516.8 L518.1,518.0 L517.0,519.6 L516.1,519.7ZM517.3,534.6 L518.2,535.8 L518.1,535.7ZM518.2,535.8 L519.6,537.6 L518.3,535.9Z" fill="#D1E5F0" fill-rule="evenodd" stroke="#FFFFFF" stroke-width="2.0"/>
<path d="M539.8,544.6 L537.3,547.1 L536.1,546.9 L535.0,548.0 L535.4,548.6 L540.6,545.9 L554.6,549.9 L555.1,550.4 L554.8,551.8 L555.8,552.0 L556.0,551.0 L556.8,551.3 L557.3,549.6 L540.7,544.9ZM539.8,544.6 L557.3,549.6 L562.3,534.6 L563.5,519.7 L564.8,494.7 L567.1,494.2 L566.6,492.9 L564.9,492.2 L553.5,494.7 L549.8,504.7 L542.3,509.7 L539.8,517.2 L542.3,519.7Z" fill="#92C5DE" fill-rule="evenodd" stroke="#FFFFFF" stroke-width="2.0"/>
<path d="M556.8,551.3 L557.3,549.6 L551.7,548.0 L555.0,550.1 L554.8,551.8 L555.8,552.0 L556.0,551.0ZM557.3,549.6 L581.0,559.6 L580.6,561.9 L582.3,561.8 L583.6,559.8 L583.6,559.0 L583.4,559.2 L584.3,557.9 L584.4,557.1 L582.9,558.3 L582.4,558.2 L582.1,557.6 L583.2,543.0 L584.7,539.7 L582.2,542.1 L573.5,539.6 L571.0,519.7 L578.5,517.2 L579.7,513.4 L580.7,513.4 L580.4,510.7 L578.5,510.9 L576.7,499.3 L576.1,493.2 L576.3,489.9 L563.7,492.4 L562.8,493.0 L562.2,494.6 L564.8,494.7 L563.5,519.7 L562.3,534.6ZM582.9,562.7 L581.4,562.3 L580.6,562.9Z" fill="#2166AC" fill-rule="evenodd" stroke="#FFFFFF" stroke-width="2.0"/>
<path d="M573.5,539.6 L582.2,542.1 L582.0,545.6 L583.5,542.3 L586.9,538.8 L588.3,512.4 L586.4,512.4 L585.7,511.8 L587.0,510.1 L585.1,510.8 L579.7,510.8 L578.2,511.3 L577.9,511.7 L578.5,517.2 L571.0,519.7ZM587.2,513.4 L586.3,532.2 L586.0,536.7ZM586.0,538.4 L584.7,539.6 L582.6,541.7Z" fill="#4393C3" fill-rule="evenodd" stroke="#FFFFFF" stroke-width="2.0"/>
<path d="M522.3,567.1 L522.3,576.0 L554.8,576.0 L549.8,564.6 L552.5,561.9 L549.0,563.7 L538.1,565.5 L533.4,565.1 L537.3,566.4 L537.7,566.6 L534.8,567.1ZM537.3,566.4 L538.1,566.5 L538.1,566.5ZM519.7,567.4 L519.7,568.6 L524.0,566.0ZM524.0,566.0 L530.0,564.0 L531.4,564.5 L531.2,563.9 L528.6,564.0 L528.4,563.5 L525.8,564.2 L525.1,563.5 L524.3,563.5 L524.9,564.9 L524.2,564.5ZM522.0,577.0 L521.3,575.3 L521.3,577.0ZM519.4,570.0 L519.0,569.0 L518.7,568.5 L518.7,570.3Z" fill="#D1E5F0" fill-rule="evenodd" stroke="#FFFFFF" stroke-width="2.0"/>
<path d="M557.3,549.6 L551.7,548.0 L555.0,550.1 L554.8,551.8 L555.6,551.9 L554.3,557.4 L552.8,560.2 L549.5,563.4 L546.0,565.2 L549.8,564.6 L554.8,576.0 L578.5,576.0 L579.6,568.4 L579.3,576.9 L579.7,572.4 L582.7,565.6 L581.9,565.8 L582.7,565.6 L583.5,564.4 L583.4,563.2 L582.9,562.5 L583.1,562.8 L583.4,559.2 L584.2,558.1 L584.1,557.3 L582.9,558.3 L582.2,558.0 L581.4,553.7 L581.0,559.6ZM554.1,560.3 L556.0,551.0 L556.8,551.3 L557.3,549.6 L554.8,559.6ZM581.0,559.6 L580.4,563.6 L580.3,564.0ZM581.6,564.7 L581.3,564.0 L581.7,563.3 L582.3,563.3 L583.1,564.4Z" fill="#92C5DE" fill-rule="evenodd" stroke="#FFFFFF" stroke-width="2.0"/>
<path d="M581.1,562.5 L581.4,562.3 L580.7,562.8 L580.3,564.0 L580.8,565.3 L580.1,571.6 L583.5,564.6 L582.2,576.0 L599.7,576.0 L604.7,562.1 L609.7,552.1 L604.5,563.1 L606.7,559.8 L613.0,547.1 L609.7,551.0 L599.6,548.6 L583.8,553.8 L583.2,558.1 L582.4,558.2 L581.2,556.8 L581.6,558.8ZM584.3,557.9 L584.5,556.5 L584.5,556.2ZM582.0,563.2 L582.5,564.0 L581.9,564.8 L580.9,563.9ZM602.6,575.6 L603.3,570.6 L604.3,570.9 L604.4,570.5 L602.4,570.2 L600.1,578.5 L601.2,578.2Z" fill="#2166AC" fill-rule="evenodd" stroke="#FFFFFF" stroke-width="2.0"/>
<path d="M279.5,520.0 L278.2,525.0 L267.0,549.9 L265.7,562.4 L273.2,584.8 L287.0,582.3 L300.7,577.3 L296.9,574.9 L295.7,566.1 L309.4,552.4 L305.7,544.9 L316.9,542.4 L321.9,539.9 L325.6,525.0 L324.4,515.0 L327.0,515.0 L326.9,514.5 L324.4,514.9 L301.9,523.6Z" fill="#92C5DE" fill-rule="evenodd" stroke="#FFFFFF" stroke-width="2.0"/>
<path d="M349.0,510.0 L348.8,508.9 L348.5,508.9 L348.1,510.9 L324.4,514.9 L321.9,515.9 L324.4,515.0 L325.6,525.0 L321.9,539.9 L316.9,542.4 L305.7,544.9 L309.4,552.4 L295.7,566.1 L296.9,574.9 L300.7,577.3 L304.4,572.4 L314.4,564.9 L324.4,559.9 L334.4,566.1 L341.8,562.4 L349.3,572.4 L356.8,584.8 L359.9,585.3 L360.4,584.0 L358.0,584.0 L355.6,564.9 L358.1,547.4 L368.0,536.2 L367.4,535.8 L371.2,533.2 L366.9,534.3 L362.3,531.6 L353.0,524.6 L349.3,511.8 L349.5,511.1 L353.1,509.6ZM366.5,535.3 L366.5,535.3 L367.4,535.5ZM361.9,532.5 L361.8,532.5 L361.9,532.5ZM351.8,525.0 L348.3,512.0 L349.9,517.7Z" fill="#FDDBC7" fill-rule="evenodd" stroke="#FFFFFF" stroke-width="2.0"/>
<path d="M349.3,572.4 L341.8,562.4 L334.4,566.1 L324.4,559.9 L314.4,564.9 L304.4,572.4 L300.7,577.3 L303.2,582.3 L309.4,589.8 L318.1,603.5 L336.9,593.6 L356.8,584.8ZM356.8,584.8 L359.2,585.2 L359.1,584.0 L358.0,584.0 L357.9,583.7Z" fill="#92C5DE" fill-rule="evenodd" stroke="#FFFFFF" stroke-width="2.0"/>
<path d="M309.4,589.8 L303.2,582.3 L300.7,577.3 L287.0,582.3 L273.2,584.8 L282.0,624.8 L289.4,649.7 L296.9,662.2 L299.0,663.2 L299.7,666.3 L313.1,671.3 L327.0,674.6 L332.0,676.4 L332.6,676.3 L330.2,674.4 L335.4,649.7 L333.1,633.9 L333.3,633.3 L334.3,632.5 L333.8,631.3 L333.1,632.2 L318.1,603.5ZM334.4,649.7 L334.3,649.8 L329.4,673.4Z" fill="#4393C3" fill-rule="evenodd" stroke="#FFFFFF" stroke-width="2.0"/>
<path d="M318.1,603.5 L326.9,619.8 L331.9,632.2 L332.7,637.8 L333.1,633.9 L337.3,628.4 L344.0,626.0 L348.6,630.5 L356.4,639.5 L366.5,638.4 L366.9,639.1 L365.3,641.6 L366.2,641.3 L376.8,631.0 L377.8,632.2 L378.3,631.8 L376.8,629.7 L386.8,617.3 L396.7,608.5 L413.9,601.2 L413.0,599.6 L409.2,598.6 L398.0,587.3 L394.2,581.1 L397.1,576.0 L394.4,578.6 L393.9,578.6 L393.2,577.6 L395.2,574.3 L391.7,577.3 L386.8,598.6 L379.3,599.8 L376.8,604.8 L380.5,613.5 L375.5,612.3 L371.8,604.8 L364.3,586.1 L366.0,584.5 L365.3,584.0 L358.0,584.0 L357.9,583.7 L356.8,584.8 L336.9,593.6ZM366.8,637.2 L366.1,637.3 L362.9,637.7ZM344.3,624.8 L347.2,627.6 L345.0,625.4ZM344.3,624.8 L343.4,625.1 L342.3,625.4ZM334.1,630.9 L333.2,632.1 L333.1,632.2Z" fill="#4393C3" fill-rule="evenodd" stroke="#FFFFFF" stroke-width="2.0"/>
<path d="M366.0,584.0 L362.7,584.0 L362.2,585.7 L364.3,586.1 L371.8,604.8 L375.5,612.3 L380.5,613.5 L376.8,604.8 L379.3,599.8 L386.8,598.6 L391.7,577.3 L393.7,580.5 L393.9,579.7 L393.4,579.6 L394.9,579.5 L395.1,579.0 L393.4,578.2 L393.4,577.1 L395.6,575.3 L396.1,575.6 L396.4,577.5 L397.1,575.7 L398.0,574.8 L397.6,574.7 L399.6,574.6 L400.2,574.0 L397.9,573.7 L397.6,573.3 L399.0,571.3 L403.3,570.3 L399.0,570.0 L398.0,562.0 L396.0,560.0 L395.6,560.1 L397.0,562.0 L395.7,563.1 L396.7,562.4 L375.4,577.7ZM391.7,577.3 L397.0,572.1 L394.4,574.7Z" fill="#F4A582" fill-rule="evenodd" stroke="#FFFFFF" stroke-width="2.0"/>
<path d="M398.0,587.3 L409.2,598.6 L411.6,602.1 L415.6,600.4 L415.8,600.0 L414.0,600.0 L420.0,585.0 L421.5,576.1 L421.5,571.1 L420.7,569.0 L420.1,568.9 L419.0,571.0 L412.6,569.8 L408.5,570.6 L406.5,570.3 L408.0,571.5 L407.9,572.2 L398.3,573.8 L397.6,573.3 L397.7,571.4 L395.3,574.3 L393.7,575.4 L395.6,575.3 L396.1,575.6 L394.7,578.4 L393.9,578.6 L392.3,577.1 L392.2,577.8ZM398.4,574.8 L401.2,574.4 L406.7,573.6Z" fill="#D6604D" fill-rule="evenodd" stroke="#FFFFFF" stroke-width="2.0"/>
<path d="M447.9,574.9 L416.7,599.8 L421.7,599.8 L424.2,614.8 L436.7,613.5 L446.6,619.8 L446.6,622.2 L447.1,622.3 L447.9,621.8 L451.6,613.5 L474.1,599.8 L474.4,602.6 L475.2,602.1 L474.9,599.8 L469.9,584.8 L461.2,574.9 L460.9,572.5 L458.3,572.3 L458.7,574.9ZM416.3,600.0 L414.2,600.0 L414.5,600.9ZM414.1,599.7 L414.4,599.1 L414.1,599.6Z" fill="#B2182B" fill-rule="evenodd" stroke="#FFFFFF" stroke-width="2.0"/>
<path d="M451.6,613.5 L446.6,619.8 L446.6,624.8 L444.1,641.0 L476.6,639.7 L477.3,642.0 L478.1,641.7 L477.4,639.7 L477.4,619.8 L474.9,599.8 L474.1,597.3 L473.3,597.5 L474.1,599.8Z" fill="#B2182B" fill-rule="evenodd" stroke="#FFFFFF" stroke-width="2.0"/>
<path d="M436.7,613.5 L424.2,614.8 L424.2,627.2 L421.7,638.5 L444.1,641.0 L446.6,624.8 L449.0,619.4 L448.2,617.8 L446.6,619.8Z" fill="#D6604D" fill-rule="evenodd" stroke="#FFFFFF" stroke-width="2.0"/>
<path d="M420.4,647.2 L426.7,654.7 L436.7,664.7 L441.6,659.7 L444.1,641.0 L421.7,638.5Z" fill="#D6604D" fill-rule="evenodd" stroke="#FFFFFF" stroke-width="2.0"/>
<path d="M396.7,608.5 L386.8,617.3 L376.8,629.7 L374.7,631.3 L375.4,632.3 L376.8,631.0 L384.3,639.7 L391.7,650.9 L396.7,654.7 L419.2,652.2 L424.2,627.2 L424.2,614.8 L421.7,599.8 L416.7,599.8 L411.7,602.3ZM411.7,602.3 L416.3,600.0 L414.0,600.0 L414.9,597.8 L413.6,598.4 L412.9,599.8 L411.7,599.4 L410.2,600.1Z" fill="#F4A582" fill-rule="evenodd" stroke="#FFFFFF" stroke-width="2.0"/>
<path d="M340.2,678.9 L341.7,679.8 L349.7,682.6 L357.9,685.0 L357.7,684.7 L358.1,685.4 L359.6,686.1 L358.7,684.4 L359.2,683.8 L379.0,688.7 L379.5,689.6 L378.3,691.0 L379.9,690.6 L382.9,690.7 L384.0,689.5 L381.8,688.4 L389.2,669.7 L396.7,654.7 L391.7,650.9 L384.3,639.7 L376.8,629.7 L366.5,637.4 L366.9,637.4 L364.9,637.5 L364.3,638.1 L366.5,638.4 L366.9,638.8 L366.7,639.4 L332.7,672.3 L340.0,676.8 L340.3,677.4 L340.1,677.9 L338.3,678.6 L340.0,679.0 L340.7,678.7ZM379.4,687.8 L361.8,683.4 L361.8,683.4ZM340.6,676.1 L338.5,674.7 L334.4,672.2Z" fill="#F4A582" fill-rule="evenodd" stroke="#FFFFFF" stroke-width="2.0"/>
<path d="M429.2,669.7 L424.2,659.7 L419.2,652.2 L396.7,654.7 L389.2,669.7 L381.8,688.4 L376.0,686.9 L379.4,689.0 L379.5,689.6 L378.9,690.3 L379.4,690.9 L380.5,690.0 L380.2,690.3 L380.6,690.7 L423.8,697.0 L424.2,696.4 L421.7,695.9 L424.2,679.6Z" fill="#FDDBC7" fill-rule="evenodd" stroke="#FFFFFF" stroke-width="2.0"/>
<path d="M441.6,659.7 L436.7,664.7 L426.7,654.7 L420.4,647.2 L419.2,652.2 L424.2,659.7 L429.2,669.7 L424.2,679.6 L421.7,695.9 L419.1,695.5 L419.3,696.2 L434.5,698.7 L461.6,704.6 L499.0,702.1 L499.6,700.9 L499.3,706.2 L501.3,699.7 L501.9,699.3 L503.6,699.1 L503.3,698.0 L502.4,698.4 L501.9,696.4 L502.8,694.6 L499.7,688.4 L498.6,684.6 L487.4,669.7 L477.4,639.7 L477.4,637.4 L476.6,637.2 L476.6,639.7 L444.1,641.0Z" fill="#F4A582" fill-rule="evenodd" stroke="#FFFFFF" stroke-width="2.0"/>
<path d="M457.9,563.3 L457.6,566.6 L458.7,574.9 L460.4,574.9 L469.1,584.8 L474.1,599.8 L476.6,619.8 L476.6,639.7 L486.6,669.7 L497.8,684.6 L499.7,688.4 L501.9,696.4 L499.8,700.6 L499.6,701.7 L501.6,699.4 L501.7,699.7 L535.3,685.5 L556.0,672.6 L552.6,663.8 L553.2,663.3 L555.4,664.0 L555.0,663.2 L550.0,660.0 L546.0,650.0 L532.5,625.1 L531.0,622.9 L530.8,623.3 L531.0,622.5 L530.5,620.9 L529.9,622.8 L529.2,623.0 L526.3,619.6 L527.5,617.1 L526.4,617.6 L524.5,619.5 L522.3,617.3 L521.0,617.6 L519.0,616.0 L512.4,619.8 L511.1,617.8 L509.0,613.0 L507.9,609.1 L508.5,605.3 L510.5,604.4 L519.8,602.3 L522.4,599.1 L525.2,599.8 L526.3,598.4 L527.0,594.3 L526.7,592.6 L525.7,594.8 L524.8,594.8 L507.1,581.8 L505.0,577.9 L505.0,577.2 L506.3,576.2 L505.6,575.5 L504.9,576.1 L496.0,567.3 L488.4,564.1 L482.1,561.0 L482.1,559.8 L481.6,559.9 L480.9,561.6 L468.9,561.3 L465.7,561.6 L466.0,561.9 L465.4,561.4 L463.7,561.1 L465.1,562.5 L464.9,563.2 L459.3,563.9 L459.0,563.6 L458.6,561.4 L458.0,562.4 L458.0,564.0ZM551.7,664.5 L554.7,672.0 L554.8,672.2ZM554.8,672.2 L534.9,684.6 L534.8,684.6ZM525.2,688.7 L505.7,696.9 L502.4,698.4ZM506.4,582.6 L512.4,586.9 L524.4,595.7ZM460.0,564.9 L461.7,564.7 L464.8,564.3Z" fill="#4393C3" fill-rule="evenodd" stroke="#FFFFFF" stroke-width="2.0"/>
<path d="M580.0,565.7 L578.7,582.9 L576.1,582.3 L576.0,583.1 L578.6,583.9 L578.5,584.8 L594.7,594.8 L599.7,579.8 L604.7,562.4 L604.5,563.1 L606.7,559.8 L613.0,547.1 L609.7,551.0 L599.6,548.6 L585.9,553.2 L585.2,553.0 L585.0,553.5 L583.8,553.9 L583.2,558.1 L582.4,558.2 L581.2,556.8 L581.3,558.4 L581.8,559.1 L581.6,558.8 L581.1,562.5 L580.4,563.6 L580.4,564.9ZM583.3,564.9 L583.3,564.9 L583.5,564.4ZM583.5,564.6 L584.7,554.6 L599.7,549.6 L609.7,552.1 L599.7,549.7 L584.7,554.6ZM583.3,564.9 L582.7,565.6 L583.3,564.9ZM582.0,563.2 L582.5,564.0 L581.9,564.8 L580.9,563.9ZM599.7,579.8 L595.3,593.1 L598.7,594.7 L599.0,594.7 L596.7,592.7 L596.7,592.0 L599.5,584.0 L600.2,584.0 L601.3,585.5 L601.2,583.6 L601.8,581.6 L603.3,570.6 L604.9,571.1 L605.0,570.6 L602.4,570.2Z" fill="#2166AC" fill-rule="evenodd" stroke="#FFFFFF" stroke-width="2.0"/>
<polygon points="457.7,322.6 462.2,320.1 468.2,318.6 473.2,319.6 475.7,321.6 474.7,326.1 472.2,330.1 471.0,334.1 470.7,338.2 468.7,343.2 467.0,348.2 467.2,354.2 468.7,358.2 469.7,360.2 470.7,364.3 471.2,370.3 471.2,380.3 472.2,388.4 473.2,412.4 468.2,418.5 463.2,415.5 460.2,414.5 463.2,404.4 458.2,396.4 448.1,391.4 443.1,386.3 442.1,387.3 441.6,383.3 443.6,380.3 448.1,379.3 456.1,379.3 461.2,377.3 463.7,373.3 464.2,369.3 462.2,366.3 456.6,364.8 452.1,362.8 450.6,360.2 451.6,357.2 455.1,353.2 460.2,348.2 464.2,343.2 465.8,338.7 466.2,335.1 465.4,332.1 463.2,329.1 459.7,325.6" fill="#053061" stroke="none"/>
<path d="M433.9,391.2 L441.1,390.7 L440.7,390.5 L441.2,390.7 L442.1,391.3 L443.3,390.8 L441.4,389.7 L441.2,389.2 L443.0,388.0 L447.2,390.5 L443.1,386.3 L442.1,387.3 L441.6,383.3 L443.6,380.3 L448.1,379.3 L456.1,379.3 L461.2,377.3 L463.7,373.3 L464.2,369.3 L462.2,366.3 L456.6,364.8 L452.1,362.8 L450.6,360.2 L451.6,357.2 L460.2,348.2 L464.2,343.2 L465.8,338.7 L466.2,335.1 L465.4,332.1 L463.2,329.1 L459.7,325.6 L457.7,322.6 L455.1,324.1 L450.5,325.7 L451.0,325.7 L449.0,326.0 L448.5,326.7 L450.7,326.7 L451.1,327.3 L450.1,328.8 L450.1,340.2 L448.1,352.0 L444.1,365.0 L440.2,374.8 L436.4,382.4 L430.6,386.4 L435.5,389.2 L435.3,390.0 L433.1,390.7ZM442.1,387.3 L442.0,387.4 L441.0,387.9ZM441.1,375.2 L445.1,365.3 L445.1,365.3ZM445.1,365.3 L449.1,352.3 L449.1,352.2ZM449.1,352.2 L449.1,352.1 L451.1,340.3ZM432.6,386.3 L433.8,387.0 L432.7,386.4ZM432.6,386.3 L436.7,383.6 L437.1,383.3ZM437.1,383.3 L437.3,383.0 L441.1,375.4ZM457.7,322.6 L459.9,321.3 L457.5,322.4 L455.5,323.9Z" fill="#4393C3" fill-rule="evenodd" stroke="#FFFFFF" stroke-width="2.0"/>
<path d="M472.2,356.2 L476.2,354.2 L480.2,354.7 L483.8,358.2 L484.3,354.7 L486.8,351.2 L484.3,348.2 L476.2,336.6 L472.7,336.6 L471.3,334.5 L471.0,334.7 L470.7,338.2 L467.0,348.2 L467.2,354.2 L468.7,358.2 L469.7,360.2 L469.2,359.0Z" fill="#2166AC" fill-rule="evenodd" stroke="#FFFFFF" stroke-width="2.0"/>
<path d="M478.2,321.6 L476.3,321.6 L475.2,321.2 L475.7,321.6 L474.7,326.1 L472.2,330.1 L471.0,334.1 L470.7,338.2 L472.7,336.6 L476.2,336.6 L484.3,348.2 L486.8,351.2 L484.3,354.7 L483.8,358.2 L480.2,354.7 L476.2,354.2 L472.2,356.2 L469.2,359.0 L468.7,358.2 L469.7,360.2 L470.7,364.3 L471.2,370.3 L471.2,380.3 L472.2,388.0 L477.0,388.0 L478.3,382.2 L480.1,378.6 L490.5,375.3 L496.1,374.8 L502.0,379.0 L508.0,384.0 L511.0,378.0 L511.0,370.4 L513.7,364.6 L522.0,357.0 L521.9,356.7 L522.4,356.2 L521.7,351.5 L524.6,353.2 L521.7,351.4 L521.4,349.2 L503.0,336.9 L499.8,334.4 L490.5,326.8 L491.0,325.7 L490.8,325.5 L489.8,326.8 L482.8,324.1Z" fill="#D1E5F0" fill-rule="evenodd" stroke="#FFFFFF" stroke-width="2.0"/>
<path d="M521.9,356.7 L516.4,361.2 L512.4,366.3 L511.4,369.3 L512.5,366.9 L511.0,370.0 L510.4,372.3 L509.9,379.3 L508.4,383.2 L506.3,381.7 L505.9,382.3 L508.0,384.0 L512.0,385.0 L514.0,394.0 L515.2,396.4 L516.0,396.4 L516.0,394.0 L518.0,389.0 L524.0,388.0 L532.0,393.0 L538.0,398.0 L544.0,396.0 L553.0,408.0 L557.0,405.0 L564.0,396.0 L577.0,387.4 L576.1,386.0 L548.0,367.6 L520.0,350.4ZM514.9,397.4 L514.5,397.3 L514.6,397.4Z" fill="#4393C3" fill-rule="evenodd" stroke="#FFFFFF" stroke-width="2.0"/>
<path d="M478.3,382.2 L475.7,387.3 L472.2,387.3 L471.8,385.5 L473.2,412.4 L471.8,414.1 L472.5,414.4 L473.0,414.0 L473.6,414.4 L474.2,414.2 L474.0,414.0 L478.0,408.0 L496.0,406.0 L495.2,402.9 L495.6,401.3 L498.4,397.9 L501.8,396.4 L503.9,395.0 L506.5,394.4 L510.6,396.4 L512.6,400.3 L513.4,400.7 L512.9,398.5 L513.5,398.0 L514.8,398.5 L515.6,399.4 L515.7,401.4 L516.3,401.4 L516.6,400.6 L516.0,398.0 L516.0,394.0 L512.0,385.0 L508.0,384.0 L508.3,383.3 L503.3,379.3 L495.0,374.0 L480.2,378.3 L479.0,379.0ZM516.6,399.8 L516.6,400.4 L516.8,400.4ZM509.2,381.6 L509.0,381.5 L508.4,383.2Z" fill="#F4A582" fill-rule="evenodd" stroke="#FFFFFF" stroke-width="2.0"/>
<path d="M495.0,426.0 L500.0,422.0 L500.3,422.5 L500.3,422.1 L501.9,421.7 L502.2,420.1 L501.6,418.9 L502.0,419.6 L501.2,416.6 L501.2,412.7 L501.8,409.7 L504.5,409.9 L504.5,409.3 L502.0,409.1 L496.0,406.0 L478.0,408.0 L473.2,411.8 L473.2,412.4 L471.5,414.6 L471.8,415.0 L473.0,414.0 L487.0,422.0 L490.0,428.0ZM495.0,426.0 L500.0,418.0 L499.2,419.3ZM499.8,420.7 L500.0,419.9 L500.6,419.6 L501.8,421.1 L500.4,421.1Z" fill="#F4A582" fill-rule="evenodd" stroke="#FFFFFF" stroke-width="2.0"/>
<path d="M495.0,426.0 L490.0,428.0 L497.0,438.0 L497.0,440.5 L498.4,440.2 L500.1,439.0 L499.9,438.1 L505.1,429.8 L505.4,428.9 L505.3,426.8 L503.1,423.0 L501.7,419.1 L501.2,418.7 L501.1,421.0 L500.7,421.1 L500.3,420.4 L499.8,420.7 L500.4,418.6 L499.2,419.3ZM495.0,426.0 L499.9,422.0 L500.0,422.0ZM500.0,422.0 L500.0,422.1 L503.0,428.0Z" fill="#B2182B" fill-rule="evenodd" stroke="#FFFFFF" stroke-width="2.0"/>
<path d="M516.0,398.0 L513.4,396.7 L512.4,397.4 L512.4,398.3 L513.5,398.0 L514.5,398.2 L515.3,399.1 L515.5,400.7 L512.9,400.9 L513.9,401.7 L517.5,402.6 L518.0,404.0 L517.0,410.0 L519.0,423.0 L553.0,408.0 L544.0,396.0 L538.0,398.0 L532.0,393.0 L524.0,388.0 L518.0,389.0 L516.0,394.0 L514.5,390.7 L513.7,392.7ZM516.0,398.0 L516.6,399.8 L516.2,398.6ZM519.0,423.0 L517.2,411.6 L514.6,411.2 L514.8,413.1 L515.7,413.5 L515.7,418.6 L516.4,423.4 L517.3,424.7Z" fill="#F4A582" fill-rule="evenodd" stroke="#FFFFFF" stroke-width="2.0"/>
<path d="M561.6,458.4 L564.8,456.0 L566.1,457.6 L567.7,456.0 L566.0,454.0ZM566.0,454.0 L574.0,448.0 L576.0,438.0 L570.0,440.0 L559.0,436.0 L564.0,418.0 L557.0,405.0 L553.0,408.0 L519.0,423.0 L518.6,420.3 L515.7,422.6 L515.7,430.5 L515.4,432.4 L516.6,434.2 L518.0,435.1 L518.0,432.0 L524.0,436.0 L536.0,441.0 L540.0,448.0 L552.0,452.0 L555.0,457.0 L551.3,459.6 L555.1,458.4 L557.3,459.5 L557.7,460.2 L555.9,463.6Z" fill="#FDDBC7" fill-rule="evenodd" stroke="#FFFFFF" stroke-width="2.0"/>
<path d="M564.0,396.0 L557.0,405.0 L564.0,418.0 L559.0,436.0 L570.0,440.0 L576.0,438.0 L584.0,442.0 L590.0,446.0 L600.0,448.0 L609.0,455.0 L615.6,452.4 L616.8,454.5 L618.0,453.3 L618.0,452.1 L601.7,425.0 L588.0,404.2 L585.2,399.0 L577.6,387.0ZM564.0,396.0 L577.0,387.4 L576.1,386.0 L575.2,385.5 L576.0,386.0Z" fill="#4393C3" fill-rule="evenodd" stroke="#FFFFFF" stroke-width="2.0"/>
<path d="M577.2,477.2 L577.0,479.3 L577.1,479.3ZM577.2,477.2 L599.7,471.0 L600.5,472.6 L601.2,472.3 L601.5,472.2 L599.9,470.0 L619.9,460.1 L621.4,462.1 L622.1,461.2 L621.6,458.3 L616.5,449.9 L614.4,450.1 L615.6,452.4 L609.0,455.0 L600.0,448.0 L590.0,446.0 L584.0,442.0 L576.0,438.0 L574.0,448.0 L566.0,454.0 L564.2,455.8 L564.5,456.2 L564.8,456.0 L574.7,467.3Z" fill="#053061" fill-rule="evenodd" stroke="#FFFFFF" stroke-width="2.0"/>
<path d="M509.4,439.4 L506.4,439.8 L508.0,440.0 L514.0,466.0 L516.0,473.0 L522.5,475.4 L523.4,475.3 L521.5,473.9 L521.6,473.1 L532.3,471.0 L548.5,462.9 L554.6,458.5 L558.3,459.2 L555.0,457.0 L552.0,452.0 L540.0,448.0 L536.0,441.0 L524.0,436.0 L518.0,432.0 L517.2,429.7 L516.0,430.3 L515.5,431.7 L515.4,435.7 L515.7,436.9 L518.0,438.7 L518.0,443.0 L513.0,444.0 L511.8,443.1ZM516.0,473.0 L527.3,470.9 L521.6,471.9Z" fill="#D1E5F0" fill-rule="evenodd" stroke="#FFFFFF" stroke-width="2.0"/>
<path d="M500.1,439.0 L499.9,438.1 L500.9,436.5 L500.3,436.4 L497.9,437.4 L497.0,438.7 L497.0,450.0 L502.0,474.0 L500.0,478.0 L498.8,478.1 L497.8,480.3 L498.4,480.7 L502.2,476.5 L503.6,477.7 L503.7,478.4 L501.1,480.3 L503.9,480.8 L503.6,479.7 L506.7,480.3 L508.0,482.0 L512.2,481.3 L517.3,482.2 L527.3,474.7 L529.4,474.4 L530.3,473.8 L530.1,473.4 L524.8,475.2 L521.5,473.9 L521.6,473.1 L523.7,472.1 L522.8,471.7 L516.0,473.0 L514.0,466.0 L508.0,440.0 L511.4,442.7 L511.2,442.1 L509.4,439.4 L506.4,439.8ZM520.0,480.0 L524.0,476.0 L524.0,476.0Z" fill="#92C5DE" fill-rule="evenodd" stroke="#FFFFFF" stroke-width="2.0"/>
<path d="M487.0,422.0 L474.0,414.0 L475.2,412.2 L474.3,411.7 L473.2,411.8 L473.2,412.4 L468.0,418.4 L463.9,415.9 L467.0,419.4 L466.9,438.0 L465.2,443.3 L461.8,447.6 L457.1,448.6 L462.0,449.0 L474.0,460.0 L494.0,440.0 L497.0,438.0 L490.0,428.0ZM497.0,438.0 L497.0,441.1 L498.4,440.2 L499.6,438.5 L499.1,436.6Z" fill="#B2182B" fill-rule="evenodd" stroke="#FFFFFF" stroke-width="2.0"/>
<path d="M474.0,460.0 L458.0,478.0 L455.6,474.5 L456.6,478.0 L456.5,478.5 L454.7,478.9 L455.9,479.6 L456.7,479.5 L456.0,479.6 L456.7,480.1 L456.6,479.6 L456.8,480.5 L458.1,481.4 L457.7,479.6 L457.8,479.2 L458.4,479.0 L478.0,481.0 L498.3,479.2 L497.8,480.3 L498.4,480.7 L499.8,479.0 L500.6,478.9 L502.0,476.6 L502.5,476.5 L504.7,478.3 L504.4,477.2 L502.0,474.0 L497.0,450.0 L497.0,443.0 L499.6,439.5 L499.6,438.0 L499.1,436.6 L494.0,440.0ZM502.0,474.0 L500.8,476.3 L500.1,477.8ZM500.0,478.0 L478.1,480.0 L478.0,480.0ZM458.4,478.0 L458.4,478.0 L457.6,478.2Z" fill="#B2182B" fill-rule="evenodd" stroke="#FFFFFF" stroke-width="2.0"/>
<path d="M458.0,478.0 L474.0,460.0 L462.0,449.0 L465.1,445.1 L461.1,447.9 L450.6,447.0 L442.9,455.7 L445.1,464.5 L455.2,475.6 L456.5,477.6 L456.5,478.5 L454.5,478.8 L455.9,479.6 L456.7,479.5 L456.1,479.6 L456.7,479.9 L456.6,479.6 L456.8,480.5 L458.1,481.4 L457.7,479.4 L458.3,479.6 L459.4,478.9 L462.0,478.4ZM456.0,475.0 L458.0,478.0 L456.1,475.1ZM456.0,475.0 L455.9,474.9 L450.1,468.5ZM461.1,448.9 L461.1,448.9 L461.9,448.8ZM451.0,448.0 L454.5,448.3 L459.9,448.8ZM446.0,463.8 L444.0,456.2 L444.0,456.0Z" fill="#B2182B" fill-rule="evenodd" stroke="#FFFFFF" stroke-width="2.0"/>
<path d="M350.0,490.0 L349.8,491.3 L346.3,492.0 L345.4,492.6 L348.1,492.7 L348.5,493.1 L348.0,496.3 L347.2,496.4 L345.7,494.4 L345.6,495.4 L348.3,502.1 L348.0,504.0 L348.7,508.0 L348.1,510.9 L346.9,511.1 L347.1,511.5 L348.1,511.2 L349.2,515.3 L349.5,511.1 L359.8,510.0 L373.9,512.0 L393.7,516.2 L394.3,516.5 L394.2,517.1 L392.7,518.6 L393.5,518.8 L398.0,516.0 L396.0,504.0 L394.2,496.0 L396.9,496.0 L396.5,494.4 L394.7,491.5 L393.7,491.0 L394.7,493.3 L394.4,493.9 L386.4,493.0 L379.9,490.3 L378.0,488.2 L377.9,487.4 L381.9,483.6 L381.7,483.2 L378.0,486.1 L375.9,487.2 L375.0,486.0 L373.0,488.7 L372.2,485.5 L371.1,487.2 L371.7,488.7 L370.6,492.0ZM388.0,514.0 L388.6,514.1 L388.0,514.0ZM388.0,514.0 L388.0,514.0 L374.1,511.0ZM379.4,491.2 L383.7,493.0 L385.8,493.9Z" fill="#F4A582" fill-rule="evenodd" stroke="#FFFFFF" stroke-width="2.0"/>
<path d="M373.0,544.0 L367.0,536.0 L359.0,541.0 L357.0,552.0 L355.0,567.0 L357.9,583.7 L356.8,584.8 L364.3,586.1 L375.4,577.7 L366.0,584.0 L390.0,568.0 L396.7,562.4 L397.1,565.3 L398.3,564.3 L398.0,562.0 L394.0,558.0 L394.0,550.0 L380.0,552.0ZM394.0,550.0 L396.2,549.1 L396.2,549.1ZM367.4,535.8 L371.2,533.2 L367.3,534.4 L363.4,533.4Z" fill="#B2182B" fill-rule="evenodd" stroke="#FFFFFF" stroke-width="2.0"/>
<path d="M521.7,566.8 L521.8,567.3 L524.0,566.0ZM524.0,566.0 L526.0,570.0 L534.0,574.0 L546.0,584.0 L558.0,596.0 L561.0,601.0 L564.0,600.0 L572.0,594.0 L570.0,584.0 L566.0,580.0 L563.0,574.0 L556.0,568.0 L554.0,572.0 L537.7,566.6 L542.2,565.8 L537.5,565.5 L530.0,562.9 L525.8,564.2 L525.4,563.9 L524.8,559.5ZM566.0,580.0 L571.3,581.6 L570.8,581.1Z" fill="#D1E5F0" fill-rule="evenodd" stroke="#FFFFFF" stroke-width="2.0"/>
<path d="M595.3,593.1 L598.0,594.6 L599.0,594.7 L596.6,592.4 L597.0,587.8ZM595.0,593.0 L578.6,583.9 L578.7,582.9 L566.0,580.0 L570.0,584.0 L572.0,594.0 L564.0,600.0 L578.0,608.0 L585.0,618.0 L583.9,620.0 L585.0,620.6 L585.7,618.9 L589.0,620.3 L589.6,620.1 L590.2,619.1 L588.0,618.0Z" fill="#D1E5F0" fill-rule="evenodd" stroke="#FFFFFF" stroke-width="2.0"/>
<path d="M564.0,600.0 L561.0,601.0 L562.0,624.0 L573.0,640.0 L571.9,643.7 L572.1,644.9 L574.0,640.3 L577.5,634.1 L578.2,634.3 L578.9,636.0 L579.3,634.4 L579.1,633.7 L579.2,634.1 L581.0,630.8 L585.7,618.9 L587.1,619.5 L587.2,618.0 L585.0,618.0 L578.0,608.0Z" fill="#D1E5F0" fill-rule="evenodd" stroke="#FFFFFF" stroke-width="2.0"/>
<path d="M581.8,559.1 L583.4,559.2 L583.2,558.5 L582.4,558.2 L582.0,557.2 L581.2,556.5 L579.6,568.4 L580.0,560.0 L556.8,551.3 L557.3,549.6 L551.7,548.0 L555.1,550.4 L553.1,559.6 L551.0,563.3 L554.1,560.3 L556.0,568.0 L563.0,574.0 L566.0,580.0 L578.6,583.9 L578.7,582.9 L579.0,583.0 L579.7,572.4 L582.3,567.0 L582.4,565.7 L583.4,564.7 L583.4,564.3 L581.9,564.8 L581.4,564.4 L581.7,563.3 L583.4,563.8 L583.4,563.2 L582.5,562.3 L582.4,559.3ZM554.0,560.0 L554.0,560.0 L556.0,551.0Z" fill="#92C5DE" fill-rule="evenodd" stroke="#FFFFFF" stroke-width="2.0"/>
<path d="M514.9,535.8 L504.9,533.8 L511.3,551.3 L513.7,561.0 L517.5,567.3 L512.8,570.1 L517.2,568.8 L517.4,569.2 L517.9,569.1 L518.4,570.3 L519.3,569.9 L519.0,569.0 L524.0,566.0 L530.0,564.0 L531.4,564.5 L531.2,563.9 L525.8,564.2 L525.3,563.5 L527.7,547.0 L528.1,546.4 L532.3,546.1 L527.0,545.0 L526.0,544.0 L523.5,542.8 L518.8,536.6 L517.9,536.2 L518.9,538.5 L518.6,539.0 L517.9,539.0 L515.4,537.8 L515.0,537.3 L515.2,536.8 L517.4,535.9 L516.1,535.3Z" fill="#FDDBC7" fill-rule="evenodd" stroke="#FFFFFF" stroke-width="2.0"/>
<path d="M518.1,568.0 L517.5,566.9 L517.5,567.3 L513.9,569.8 L517.2,568.8 L517.9,569.1 L518.4,570.3 L525.0,588.4 L526.0,594.3 L525.5,594.9 L523.7,595.2 L525.3,596.0 L526.5,597.2 L527.0,594.0 L556.0,626.0 L562.0,624.0 L561.0,601.0 L558.0,596.0 L546.0,584.0 L534.0,574.0 L526.0,570.0 L524.0,566.0ZM527.0,594.0 L527.0,593.7 L526.4,590.6ZM524.0,566.0 L530.0,564.0 L531.4,564.5 L531.2,563.9 L525.8,564.2 L525.4,563.9 L525.2,562.4 L524.4,562.5Z" fill="#F4A582" fill-rule="evenodd" stroke="#FFFFFF" stroke-width="2.0"/>
<path d="M527.0,594.0 L528.0,616.0 L525.7,618.3 L525.3,619.5 L527.4,618.2 L528.2,618.5 L530.0,622.5 L529.5,623.0 L527.6,622.7 L529.1,624.0 L530.3,626.4 L539.8,639.7 L549.8,659.7 L552.1,665.6 L552.9,666.1 L552.6,663.8 L553.2,663.3 L558.2,666.3 L564.8,658.6 L569.0,653.0 L569.7,652.7 L571.1,654.0 L571.7,652.9 L570.9,652.3 L573.5,647.5 L574.0,645.6 L575.3,644.1 L573.5,644.7 L572.9,644.3 L573.9,640.5 L575.9,635.7 L575.5,635.5 L573.0,640.0 L562.0,624.0 L556.0,626.0ZM527.0,594.0 L526.0,588.8 L525.7,594.8 L525.2,595.0 L523.4,594.3 L523.4,595.0 L524.8,596.1 L524.5,596.5 L524.7,599.7 L526.0,600.0Z" fill="#FDDBC7" fill-rule="evenodd" stroke="#FFFFFF" stroke-width="2.0"/>
<path d="M509.0,613.0 L507.9,609.1 L507.4,612.3 L511.1,617.8 L512.0,620.0 L519.0,616.0 L524.0,620.0 L524.5,619.5 L528.7,623.9 L526.3,619.6 L527.1,618.4 L527.9,618.2 L530.9,621.8 L528.0,616.0 L527.0,594.0 L526.1,588.8 L525.7,594.8 L525.2,595.0 L521.2,593.4 L524.8,596.1 L522.4,599.1 L522.0,599.0 L509.3,604.9 L510.5,604.4 L508.6,604.8 L508.5,605.3 L507.0,606.0ZM526.0,600.0 L526.9,594.7 L527.0,594.3ZM519.0,616.0 L512.5,619.7 L521.0,617.6Z" fill="#D1E5F0" fill-rule="evenodd" stroke="#FFFFFF" stroke-width="2.0"/>
<path d="M595.0,593.0 L588.0,618.0 L585.5,618.0 L585.6,619.0 L604.3,626.7 L605.8,627.7 L604.3,625.9 L607.9,624.9 L608.6,623.8 L606.1,622.9 L607.5,620.7 L618.3,607.2 L619.2,607.8 L620.2,606.2 L600.0,595.6 L600.8,589.2 L599.2,593.5 L598.3,593.6 L596.6,592.4 L597.0,587.8 L595.3,593.1 L596.1,593.6Z" fill="#2166AC" fill-rule="evenodd" stroke="#FFFFFF" stroke-width="2.0"/>
<path d="M429.8,519.3 L429.9,518.7 L428.7,517.5 L428.6,518.6 L429.1,519.5ZM395.3,515.5 L395.6,517.5 L398.0,516.0ZM398.0,516.0 L399.0,525.0 L403.8,528.8 L407.6,527.4 L414.0,526.8 L416.4,528.8 L414.3,530.4 L414.5,530.6 L416.4,529.4 L417.9,530.8 L416.4,528.8 L419.6,525.6 L423.4,519.9 L425.7,519.3 L426.6,518.5 L424.0,518.4 L424.1,516.7 L424.7,516.5 L426.8,517.7 L426.4,516.6 L411.4,501.6 L405.1,497.8 L401.9,495.3 L403.7,493.4 L403.4,493.2 L400.9,492.8 L397.0,494.3 L396.2,493.4 L395.7,493.4 L395.4,492.4 L394.8,492.4 L394.4,493.9 L389.7,494.5 L394.0,495.0 L396.0,504.0ZM394.6,518.1 L395.3,516.9 L395.2,516.1 L394.2,515.3Z" fill="#67001F" fill-rule="evenodd" stroke="#FFFFFF" stroke-width="2.0"/>
<path d="M373.0,544.0 L380.0,552.0 L394.0,550.0 L401.0,547.2 L410.8,545.8 L409.5,535.7 L411.4,532.6 L416.4,529.4 L418.0,530.8 L416.4,528.8 L414.0,526.8 L407.6,527.4 L403.8,528.8 L399.0,525.0 L398.0,516.0 L392.9,515.0 L392.1,515.4 L394.1,516.3 L394.3,516.8 L394.0,517.4 L367.8,534.3 L363.4,533.4 L367.4,535.8 L367.0,536.0ZM379.4,527.9 L390.0,521.0 L390.0,521.0ZM390.0,521.0 L390.0,521.0 L394.6,518.1Z" fill="#67001F" fill-rule="evenodd" stroke="#FFFFFF" stroke-width="2.0"/>
<path d="M419.0,561.0 L412.6,547.6 L410.8,545.8 L401.0,547.0 L394.0,550.0 L394.0,558.0 L397.0,562.0 L395.7,563.1 L396.7,562.4 L398.0,571.1 L397.1,572.0 L397.4,573.9 L398.9,571.4 L399.7,571.0 L407.8,571.3 L408.1,572.0 L407.0,573.5 L408.8,572.7 L412.5,572.4 L419.2,571.1 L419.4,573.4 L420.2,573.3 L421.3,572.2 L421.5,571.1ZM407.4,570.2 L408.2,570.3 L407.4,570.2ZM405.0,570.4 L404.3,570.4 L401.8,570.2ZM399.6,570.0 L399.6,570.0 L398.8,570.2ZM410.4,543.2 L410.4,543.2 L410.5,544.0Z" fill="#FDDBC7" fill-rule="evenodd" stroke="#FFFFFF" stroke-width="2.0"/>
<path d="M415.8,475.7 L416.5,483.6 L412.1,489.9 L400.5,493.0 L399.3,495.4 L399.6,496.0 L400.0,496.0 L401.8,495.2 L405.0,497.8 L411.4,501.6 L423.4,513.6 L422.8,517.8 L423.1,518.9 L424.1,516.7 L424.7,516.5 L425.6,517.3 L425.8,517.9 L423.6,519.3 L424.8,519.5 L428.4,518.6 L431.7,522.7 L429.6,518.4 L431.4,507.3 L432.1,506.7 L436.1,508.4 L432.2,505.4 L433.5,499.1 L437.9,494.0 L434.1,489.0 L433.5,485.2 L436.4,480.9 L436.3,480.2 L434.6,481.6 L434.1,481.5 L430.5,476.9 L427.0,471.4 L417.8,472.7 L417.8,474.1 L417.3,475.1 L416.7,475.0 L415.6,473.2 L415.4,474.5ZM430.5,507.0 L430.4,507.6 L430.3,507.9ZM430.3,507.9 L430.3,508.0 L430.0,510.1ZM429.7,513.0 L429.6,513.2 L428.6,517.9ZM429.7,513.0 L429.7,513.0 L429.7,513.0Z" fill="#D6604D" fill-rule="evenodd" stroke="#FFFFFF" stroke-width="2.0"/>
<path d="M432.8,481.4 L434.1,489.0 L436.6,492.7 L437.9,494.0 L441.7,492.1 L445.5,489.0 L451.8,492.7 L455.6,490.8 L465.7,495.9 L467.3,498.2 L468.4,498.7 L466.5,495.3 L461.4,481.9 L457.7,479.9 L457.8,479.2 L460.1,478.7 L459.4,478.1 L457.8,478.1 L457.0,476.6 L456.5,478.5 L456.0,478.6 L453.5,476.6 L445.4,475.3 L437.3,478.0 L435.0,481.3 L434.4,481.6 L433.8,481.2 L431.7,476.7 L431.1,476.9 L431.6,479.9Z" fill="#F4A582" fill-rule="evenodd" stroke="#FFFFFF" stroke-width="2.0"/>
<path d="M431.0,504.1 L430.0,510.5 L431.6,506.9 L432.5,506.9 L445.3,517.1 L447.6,521.5 L446.1,516.2 L445.5,516.1 L449.3,516.7 L456.9,518.6 L459.4,522.4 L463.8,520.5 L465.7,523.1 L472.0,522.4 L479.6,519.9 L480.9,516.7 L482.7,514.9 L480.9,513.0 L482.0,512.4 L480.9,511.8 L479.2,512.9 L477.5,511.0 L477.4,510.3 L478.5,509.2 L477.7,508.4 L477.1,509.2 L474.5,506.6 L471.4,502.2 L470.1,496.5 L470.8,496.8 L469.3,494.7 L469.2,497.4 L468.7,497.8 L468.1,497.5 L464.2,490.9 L463.9,491.0 L465.7,495.9 L455.6,490.8 L451.8,492.7 L445.5,489.0 L441.7,492.1 L437.9,494.0 L433.5,499.1ZM445.5,516.1 L445.3,516.0 L437.9,509.8ZM480.9,516.7 L475.8,510.4 L476.6,511.5ZM432.2,505.4 L437.9,509.8 L437.1,509.1ZM437.9,494.0 L436.4,492.0 L436.2,492.1 L436.6,492.7ZM465.7,523.1 L465.1,525.0 L466.6,525.6 L468.3,525.4Z" fill="#B2182B" fill-rule="evenodd" stroke="#FFFFFF" stroke-width="2.0"/>
<path d="M466.6,497.1 L475.8,510.4 L478.7,513.8 L477.3,510.5 L481.7,504.6 L483.8,499.2 L482.9,493.8 L477.9,496.3 L474.2,497.2 L471.0,495.8 L470.1,491.9 L469.5,491.9 L469.3,495.1 L468.7,494.8 L469.2,497.0 L469.0,497.6 L468.4,497.7 L466.3,496.1Z" fill="#67001F" fill-rule="evenodd" stroke="#FFFFFF" stroke-width="2.0"/>
<path d="M451.8,530.0 L458.1,526.9 L465.1,525.0 L467.4,525.9 L467.8,525.0 L465.7,523.1 L463.8,520.5 L459.4,522.4 L456.9,518.6 L445.5,516.1 L444.0,514.8 L441.8,514.5 L445.4,517.5 L448.4,527.8 L446.8,527.3 L446.4,528.2 L448.9,529.7 L449.1,530.2 L451.0,530.9 L454.1,535.1ZM449.9,529.4 L448.9,526.1 L448.6,525.1ZM449.9,529.4 L451.8,530.0 L451.1,529.8Z" fill="#67001F" fill-rule="evenodd" stroke="#FFFFFF" stroke-width="2.0"/>
<path d="M479.6,519.9 L472.0,522.4 L465.7,523.1 L465.1,525.0 L468.2,526.2 L472.0,528.7 L482.1,542.0 L485.9,538.9 L487.2,534.4 L489.7,531.9 L490.3,526.9 L488.4,523.1 L480.9,516.7ZM480.9,516.7 L482.7,514.9 L480.2,514.2 L479.4,514.9ZM479.9,513.2 L479.1,513.9 L480.6,513.3Z" fill="#B2182B" fill-rule="evenodd" stroke="#FFFFFF" stroke-width="2.0"/>
<path d="M463.2,550.9 L465.7,547.1 L467.6,542.0 L470.1,543.0 L470.6,542.4 L470.1,539.0 L470.8,538.2 L470.1,534.4 L472.0,528.7 L465.7,523.1 L465.1,525.0 L458.1,526.9 L451.8,530.0 L449.9,529.4 L449.6,528.2 L446.8,527.3 L446.4,528.2 L451.2,531.2 L453.4,536.2 L456.3,540.9 L455.8,543.3 L456.2,544.4 L456.1,546.3 L456.8,546.4 L457.0,547.4 L455.9,550.9 L455.7,552.9 L451.4,554.4 L455.6,554.0 L456.2,554.6 L457.6,555.0 L459.4,552.8Z" fill="#B2182B" fill-rule="evenodd" stroke="#FFFFFF" stroke-width="2.0"/>
<path d="M470.8,543.3 L480.9,543.3 L482.1,542.0 L472.0,528.7 L470.1,534.4 L470.8,538.2 L470.1,538.9ZM470.8,543.3 L470.1,539.0 L467.9,541.7 L468.0,542.2ZM472.0,528.7 L470.2,527.1 L470.0,527.4Z" fill="#B2182B" fill-rule="evenodd" stroke="#FFFFFF" stroke-width="2.0"/>
<path d="M490.3,552.1 L485.9,545.8 L482.1,542.0 L480.9,543.3 L470.8,543.3 L470.3,540.3 L469.3,539.9 L467.6,542.0 L465.7,547.1 L463.2,550.9 L459.4,552.8 L456.9,552.1 L457.1,551.2 L455.9,550.9 L455.6,552.9 L451.4,554.4 L455.6,554.0 L456.9,555.9 L458.1,561.0 L458.0,564.0 L459.2,564.9 L458.9,562.9 L459.1,562.3 L459.7,562.0 L464.9,562.3 L465.1,563.0 L463.9,564.4 L465.7,563.8 L469.0,563.9 L482.4,562.4 L483.2,562.7 L483.6,561.7 L482.1,561.0 L482.1,558.4 L485.9,555.9ZM459.6,561.0 L459.6,561.0 L458.8,561.2Z" fill="#B2182B" fill-rule="evenodd" stroke="#FFFFFF" stroke-width="2.0"/>
<path d="M448.0,554.5 L450.1,554.2 L448.8,553.3 L447.6,549.5 L446.3,548.5 L445.9,548.7 L443.4,547.4 L439.9,543.8 L436.9,539.5 L436.6,537.9 L438.2,533.4 L439.0,529.0 L434.8,524.9 L429.8,518.7 L429.6,513.5 L428.4,518.6 L424.9,515.5 L424.6,515.5 L425.8,517.9 L425.3,518.4 L424.0,518.4 L423.6,515.8 L419.6,525.5 L414.4,530.4 L416.4,529.4 L422.1,535.7 L424.0,540.8 L427.2,543.3 L429.7,549.6 L441.7,550.9 L447.4,552.1Z" fill="#B2182B" fill-rule="evenodd" stroke="#FFFFFF" stroke-width="2.0"/>
<path d="M411.4,532.5 L409.4,535.6 L410.7,545.8 L408.2,546.1 L410.7,545.8 L412.6,547.7 L419.6,544.5 L424.0,540.8 L422.1,535.7 L416.4,528.8Z" fill="#67001F" fill-rule="evenodd" stroke="#FFFFFF" stroke-width="2.0"/>
<path d="M424.6,566.0 L427.2,561.0 L429.1,555.9 L429.7,549.6 L427.2,543.3 L424.0,540.8 L419.6,544.5 L412.6,547.7 L419.0,561.0 L420.2,568.6 L418.8,571.0 L419.2,571.1 L419.3,572.2 L420.1,573.3 L421.5,573.5 L421.5,571.1Z" fill="#B2182B" fill-rule="evenodd" stroke="#FFFFFF" stroke-width="2.0"/>
<path d="M441.7,550.9 L429.7,549.6 L429.1,555.9 L427.2,561.0 L424.6,566.0 L421.5,571.1 L420.6,567.6 L418.9,571.0 L419.2,571.1 L420.4,582.4 L416.7,592.3 L412.9,599.8 L411.6,599.4 L411.9,601.5 L412.6,601.9 L416.3,600.0 L417.1,600.0 L429.9,592.0 L443.0,579.9 L450.5,574.9 L448.6,563.5 L448.0,554.6 L453.6,554.2 L448.8,553.3 L448.2,551.3 L447.7,551.2 L446.3,548.5 L445.5,548.8 L445.7,549.7 L446.7,550.2 L447.4,552.1Z" fill="#B2182B" fill-rule="evenodd" stroke="#FFFFFF" stroke-width="2.0"/>
<path d="M448.0,554.6 L448.6,563.5 L450.5,574.9 L460.4,574.9 L461.0,575.6 L461.2,574.8 L460.0,564.9 L461.0,564.8 L460.8,563.8 L459.1,563.9 L459.0,562.7 L459.3,562.1 L463.6,561.1 L458.1,561.0 L456.9,555.9 L458.6,553.8 L457.8,552.6 L456.9,552.1 L457.1,551.1 L455.9,550.6 L455.6,552.9 L449.0,553.5 L446.3,548.5 L445.5,548.8 L445.7,549.7 L446.7,550.2ZM455.6,554.0 L450.5,554.4 L454.3,554.1ZM448.6,554.4 L449.4,554.5 L449.4,554.5Z" fill="#B2182B" fill-rule="evenodd" stroke="#FFFFFF" stroke-width="2.0"/>
<path d="M518.1,568.0 L513.0,556.0 L505.0,534.0 L508.3,535.6 L507.8,534.3 L504.9,533.8 L497.3,530.6 L491.0,524.3 L483.4,514.2 L480.8,513.1 L482.2,512.5 L480.7,511.8 L478.7,513.8 L480.2,513.7 L479.2,514.7 L480.9,516.7 L488.4,523.1 L490.3,526.9 L489.7,531.9 L487.2,534.4 L485.9,538.9 L482.1,542.0 L485.9,545.8 L490.3,552.1 L485.9,555.9 L482.1,558.4 L480.9,561.6 L479.9,561.6 L480.5,562.6 L482.4,562.4 L493.6,567.4 L502.4,574.9 L505.8,581.6 L505.0,577.3 L511.7,571.9 L516.8,568.9 L517.9,569.1 L518.4,570.3 L519.3,569.9 L519.0,569.0 L520.0,567.9 L519.9,567.4ZM511.2,571.1 L517.5,567.3 L516.4,568.0ZM507.4,574.1 L505.0,576.0 L504.9,576.1Z" fill="#F4A582" fill-rule="evenodd" stroke="#FFFFFF" stroke-width="2.0"/>
<path d="M478.4,513.6 L479.7,515.3 L481.4,516.2 L483.4,514.2 L491.0,524.3 L497.3,530.6 L504.9,533.8 L505.9,536.6 L505.0,534.0 L513.2,537.9 L514.2,538.1 L514.0,537.4 L514.2,538.2 L515.6,539.1 L515.0,537.4 L515.8,536.7 L516.6,536.9 L516.8,536.1 L519.8,538.3 L517.3,534.6 L516.2,520.5 L518.1,518.0 L517.0,519.6 L519.7,519.3 L518.5,516.0 L518.8,514.2 L517.6,513.8 L516.1,509.7 L517.6,505.3 L517.4,504.9 L515.8,506.8 L514.9,505.8 L515.1,505.3 L517.0,504.4 L516.5,504.1 L499.9,507.2 L500.7,503.2 L498.8,506.4 L495.8,506.9 L478.8,512.6 L477.5,511.6 L477.5,512.5 L478.8,513.8ZM516.0,526.5 L515.6,535.6 L515.6,535.7ZM515.0,507.9 L513.7,506.0 L514.1,506.6Z" fill="#F4A582" fill-rule="evenodd" stroke="#FFFFFF" stroke-width="2.0"/>
<path d="M337.6,401.5 L331.5,394.2 L331.0,397.0 L332.9,400.0 L333.1,399.5 L332.9,400.2 L333.5,401.8 L334.0,400.0 L334.7,399.7 L336.8,402.1 L341.4,409.1 L341.3,410.0 L339.2,410.6 L339.7,411.1 L341.8,410.9 L341.0,411.1 L341.8,411.1 L348.1,413.6 L350.3,420.7 L350.7,420.9 L350.9,418.5 L351.6,418.4 L352.4,419.0 L350.8,420.9 L351.0,421.1 L351.8,421.1 L355.8,418.9 L356.5,419.2 L357.8,417.9 L359.7,413.5 L362.8,411.0 L369.2,411.6 L369.8,414.0 L371.4,413.7 L372.4,412.7 L370.7,412.6 L370.2,410.6 L370.6,410.4 L372.6,410.8 L372.6,410.5 L369.2,408.4 L364.7,404.0 L365.4,397.7 L371.7,390.1 L379.3,382.5 L381.7,382.0 L381.3,380.9 L366.0,373.0 L348.0,384.0 L332.0,391.0 L331.3,393.9ZM337.6,401.5 L342.6,409.1 L342.3,408.6ZM369.2,411.6 L367.9,408.4 L369.1,411.5Z" fill="#F4A582" fill-rule="evenodd" stroke="#FFFFFF" stroke-width="2.0"/>
<path d="M391.3,388.8 L394.8,391.4 L392.5,388.4 L393.3,386.6 L392.3,386.0 L392.0,387.0 L379.6,379.8 L377.5,380.7 L379.3,382.5 L371.7,390.1 L365.4,397.7 L364.7,404.0 L367.9,408.4 L369.4,412.6 L370.4,413.1 L370.1,410.9 L370.4,410.5 L371.0,410.5 L371.6,411.0 L371.7,411.8 L370.9,413.5 L372.1,413.2 L373.0,410.3 L380.5,400.8ZM372.7,416.5 L373.0,415.4 L372.3,416.0 L372.4,416.5Z" fill="#4393C3" fill-rule="evenodd" stroke="#FFFFFF" stroke-width="2.0"/>
<path d="M407.4,426.0 L409.0,426.7 L410.9,424.9 L418.3,424.5 L418.3,424.2 L415.9,424.2 L414.0,416.6 L412.8,405.3 L412.8,396.4 L413.8,396.0 L413.8,394.9 L411.7,395.6 L408.9,391.7 L395.2,390.4 L392.5,388.4 L393.3,386.6 L392.3,386.0 L392.0,387.0 L390.9,386.3 L389.2,387.2 L391.3,388.8 L380.5,400.8 L373.0,410.3 L370.7,409.2 L369.3,410.1 L371.2,410.5 L371.6,411.0 L371.6,412.1 L371.1,412.7 L370.6,412.6 L369.3,410.3 L369.1,411.2 L371.7,420.4 L371.1,421.8 L371.6,423.4 L372.5,423.2 L372.0,417.9 L374.8,414.9 L381.1,410.5 L388.0,407.8 L391.3,410.0 L393.7,414.8 L398.5,417.6 L403.8,418.8 L406.3,423.7 L407.4,424.6 L407.1,425.1 L404.7,425.8 L406.1,426.5Z" fill="#D1E5F0" fill-rule="evenodd" stroke="#FFFFFF" stroke-width="2.0"/>
<path d="M410.9,396.4 L412.8,405.3 L414.0,416.6 L415.9,424.2 L413.4,424.7 L423.5,424.2 L429.8,428.6 L433.0,432.4 L433.9,432.8 L432.8,430.1 L433.7,429.8 L435.3,430.6 L437.9,425.5 L436.0,421.2 L437.4,417.0 L440.5,415.0 L446.4,413.8 L456.8,412.5 L459.9,409.8 L461.0,411.8 L461.0,409.7 L462.1,408.0 L460.1,409.1 L458.5,403.4 L451.9,398.2 L446.9,393.0 L441.4,389.7 L441.3,389.0 L443.5,387.1 L442.2,387.3 L438.1,389.4 L434.7,387.5 L433.8,387.6 L435.5,389.2 L435.3,390.0 L430.9,390.4 L418.1,392.9 L412.0,395.7 L408.6,393.0ZM451.4,399.0 L457.4,403.8 L457.6,404.0ZM456.3,411.6 L456.1,411.6 L446.3,412.8ZM441.2,390.7 L444.6,392.9 L446.1,393.8ZM435.1,422.2 L436.7,425.3 L436.8,425.5ZM436.8,425.5 L436.7,425.6 L435.2,428.7ZM435.2,428.7 L435.0,428.9 L434.9,429.3ZM418.4,393.9 L418.5,393.9 L419.9,393.6ZM412.8,396.4 L413.0,396.3 L416.0,395.0ZM461.0,409.7 L461.0,409.8 L461.0,409.7ZM407.5,392.1 L407.1,392.5 L408.1,392.6Z" fill="#92C5DE" fill-rule="evenodd" stroke="#FFFFFF" stroke-width="2.0"/>
<path d="M349.9,420.0 L350.6,422.3 L350.4,424.1 L349.6,425.5 L349.9,429.9 L349.4,436.8 L351.0,439.1 L351.5,438.7 L358.4,438.1 L361.6,440.6 L361.6,448.2 L364.1,454.5 L362.8,462.1 L356.5,468.4 L345.8,472.2 L345.5,471.9 L346.3,474.4 L345.8,474.8 L346.4,480.4 L357.2,478.5 L364.1,479.8 L369.8,484.2 L370.8,486.5 L371.5,486.2 L372.1,485.1 L371.7,483.6 L372.3,477.3 L382.4,463.4 L380.5,458.3 L379.9,450.8 L374.2,430.5 L375.3,430.6 L375.0,429.5 L373.2,429.4 L370.4,427.0 L370.8,425.1 L372.8,420.5 L372.0,417.9 L372.6,417.1 L373.0,415.4 L371.7,416.6 L372.7,411.5 L372.6,410.5 L371.1,412.7 L370.6,412.6 L370.1,410.9 L370.4,410.5 L372.1,410.0 L369.4,409.0 L368.1,408.9 L369.2,411.6 L362.8,411.0 L359.7,413.5 L357.8,417.9 L355.8,418.9 L350.9,417.3 L350.6,417.5 L352.3,418.8 L352.4,419.3 L351.3,420.1 L350.0,418.1Z" fill="#D6604D" fill-rule="evenodd" stroke="#FFFFFF" stroke-width="2.0"/>
<path d="M342.6,450.8 L341.8,462.3 L346.3,474.4 L356.5,468.4 L362.8,462.1 L364.1,454.5 L361.6,448.2 L361.6,440.6 L358.4,438.1 L352.7,437.5 L351.9,436.1 L349.8,436.8 L343.1,444.8 L342.7,450.7 L346.4,443.2Z" fill="#F4A582" fill-rule="evenodd" stroke="#FFFFFF" stroke-width="2.0"/>
<path d="M373.0,430.5 L376.7,439.4 L379.3,450.8 L379.9,455.8 L378.7,460.8 L380.5,463.4 L379.9,464.2 L380.8,465.5 L382.4,463.4 L390.0,472.2 L411.5,465.9 L413.0,467.9 L413.6,467.4 L412.8,454.5 L410.9,455.8 L408.3,452.6 L400.8,449.5 L397.0,445.7 L396.3,440.6 L396.9,438.4 L396.6,437.5 L395.5,439.5 L394.7,439.6 L392.8,435.1 L390.1,431.0 L385.7,428.8 L380.3,430.1 L373.2,429.4 L369.6,427.6Z" fill="#B2182B" fill-rule="evenodd" stroke="#FFFFFF" stroke-width="2.0"/>
<path d="M414.6,450.8 L415.3,454.4 L415.1,452.0ZM409.0,426.7 L410.5,425.2 L409.8,424.3 L408.1,423.7 L406.7,422.2 L403.9,421.2 L407.3,424.3 L407.3,424.9 L401.4,427.2 L397.3,432.6 L395.5,439.5 L394.7,439.6 L393.0,437.2 L392.9,438.1 L394.4,441.9 L397.0,445.7 L400.8,449.5 L408.3,452.6 L410.9,455.8 L411.0,458.3 L412.9,457.6 L412.8,454.5 L410.9,438.1ZM402.0,428.0 L406.8,426.2 L407.1,426.1ZM407.1,426.1 L407.1,426.1 L409.0,426.7ZM396.3,440.6 L396.6,439.5 L398.2,433.1Z" fill="#B2182B" fill-rule="evenodd" stroke="#FFFFFF" stroke-width="2.0"/>
<path d="M415.9,443.2 L421.0,438.1 L433.6,433.1 L434.5,434.1 L434.4,433.8 L435.3,433.5 L433.0,430.8 L432.8,430.1 L433.3,429.7 L435.9,430.2 L434.9,429.1 L433.3,428.7 L429.8,426.7 L423.5,424.2 L415.9,424.2 L410.9,424.9 L408.4,423.6 L408.2,423.9 L407.5,423.2 L407.0,423.6 L407.4,424.6 L407.1,425.1 L403.8,426.1 L405.6,426.7 L407.1,426.1 L409.0,426.7 L410.9,438.1 L412.8,454.5 L410.9,455.8 L411.5,465.9 L413.4,468.4 L415.7,475.3 L416.7,476.1 L417.3,475.9 L416.4,474.5 L416.5,473.6 L418.3,473.3 L418.3,472.5 L421.3,470.8 L421.0,470.2 L418.4,470.9 L418.8,468.4 L416.7,456.3 L417.1,456.0 L421.4,456.0 L415.9,454.5 L414.6,450.8 L414.0,445.7Z" fill="#B2182B" fill-rule="evenodd" stroke="#FFFFFF" stroke-width="2.0"/>
<path d="M433.6,433.1 L421.0,438.1 L415.9,443.2 L414.0,445.7 L416.3,460.6 L416.7,456.3 L417.5,456.0 L420.7,456.8 L426.7,459.2 L431.2,462.1 L441.9,451.4 L445.9,446.2 L448.5,438.4 L449.9,431.2 L446.0,429.3 L440.7,434.6 L437.8,436.1 L433.9,431.9 L433.5,432.0 L432.4,429.6 L431.8,429.9 L431.8,430.6ZM433.6,433.1 L436.6,436.5 L437.4,437.5ZM437.4,437.5 L440.5,435.9 L440.9,435.7ZM446.5,430.6 L448.5,431.7 L448.8,431.8ZM448.8,431.8 L447.5,438.1 L447.5,438.1ZM420.9,455.8 L419.2,455.4 L421.0,455.8ZM421.0,455.8 L427.1,458.3 L421.1,455.8ZM432.1,431.3 L431.9,430.9 L431.8,431.0Z" fill="#92C5DE" fill-rule="evenodd" stroke="#FFFFFF" stroke-width="2.0"/>
<path d="M389.4,479.8 L389.0,480.0 L389.9,480.1ZM389.9,480.1 L388.0,480.1 L388.2,480.9 L390.1,481.1 L391.0,481.8 L392.7,488.2 L392.4,488.4 L393.5,491.6 L394.7,493.3 L394.4,493.9 L392.2,494.2 L392.8,494.8 L394.1,495.0 L395.0,496.0 L399.9,496.0 L401.9,495.3 L403.8,493.4 L412.6,490.2 L416.4,487.7 L417.1,481.4 L418.8,473.8 L419.1,473.8 L418.9,472.5 L417.3,475.1 L416.7,475.0 L416.4,473.8 L417.0,473.3 L418.3,473.3 L418.3,472.5 L421.3,470.8 L421.0,470.2 L418.2,471.0 L417.9,467.0 L417.5,466.9 L417.8,468.4 L417.2,472.2 L414.8,472.8 L413.4,468.4 L414.4,471.5 L413.3,464.1 L412.3,463.4 L411.3,463.4 L411.5,465.9 L390.0,472.2 L391.9,481.1ZM415.1,473.6 L415.4,474.5 L415.6,475.1ZM394.4,491.2 L397.0,494.3 L395.4,492.4ZM394.4,491.2 L394.4,491.0 L392.1,481.8Z" fill="#F4A582" fill-rule="evenodd" stroke="#FFFFFF" stroke-width="2.0"/>
<path d="M390.0,472.2 L382.4,463.4 L381.6,461.2 L380.4,461.8 L379.9,462.5 L380.5,463.4 L373.0,474.1 L370.4,479.8 L369.8,484.2 L371.7,488.7 L371.2,490.2 L371.8,490.9 L373.4,488.4 L373.0,488.7 L375.9,487.2 L379.1,491.0 L377.9,487.4 L384.6,482.1 L388.9,481.0 L391.0,481.8 L393.2,486.3ZM381.4,483.4 L381.1,483.7 L378.0,486.1Z" fill="#F4A582" fill-rule="evenodd" stroke="#FFFFFF" stroke-width="2.0"/>
<path d="M344.4,492.3 L346.4,496.9 L346.0,493.4 L346.6,492.9 L348.3,492.9 L348.8,496.8 L349.8,491.3ZM343.9,492.4 L349.8,491.3 L350.2,491.2 L360.3,491.2 L370.4,492.4 L373.4,488.4 L373.0,488.7 L371.7,483.6 L371.8,482.7 L370.2,481.3 L369.8,484.2 L364.1,479.8 L357.2,478.5 L346.4,480.4 L345.8,486.1Z" fill="#F4A582" fill-rule="evenodd" stroke="#FFFFFF" stroke-width="2.0"/>
<path d="M496.7,407.2 L501.2,409.1 L509.4,409.7 L502.0,409.1 L501.8,409.7 L509.4,410.3 L515.7,413.5 L515.7,414.2 L517.6,414.2 L517.2,411.6 L519.5,411.6 L518.2,402.7 L517.5,402.6 L516.2,398.6 L515.3,397.6 L508.0,394.0 L506.5,394.4 L505.6,393.9 L501.8,396.4 L503.9,395.0 L500.0,396.0 L498.4,397.9 L496.1,399.0 L495.3,402.6 L495.6,401.3 L495.0,402.0 L495.2,402.9 L494.9,404.6ZM515.5,400.7 L513.9,400.6 L513.0,398.9 L513.2,398.0 L515.5,398.4ZM513.2,401.5 L512.3,399.7 L512.4,400.0Z" fill="#FDDBC7" fill-rule="evenodd" stroke="#FFFFFF" stroke-width="2.0"/>
<path d="M501.2,412.7 L500.0,418.0 L498.7,420.4 L499.3,421.7 L500.3,422.1 L500.1,422.1 L503.2,428.0 L500.0,436.0 L497.6,437.6 L497.4,438.7 L498.0,441.3 L500.0,439.0 L500.5,440.6 L506.4,439.8 L508.0,440.0 L513.0,444.0 L515.1,445.1 L518.2,443.2 L518.9,439.4 L518.0,438.7 L517.7,434.2 L518.0,432.0 L516.0,426.0 L518.3,423.7 L518.3,418.4 L517.3,411.8 L509.4,409.7 L502.0,409.1 L501.8,409.7 L509.4,410.3 L501.2,409.7ZM502.1,419.7 L502.1,419.7 L501.6,418.9ZM500.6,419.6 L501.2,420.1 L501.1,421.0 L499.0,420.8Z" fill="#67001F" fill-rule="evenodd" stroke="#FFFFFF" stroke-width="2.0"/>
<path d="M617.9,605.1 L604.7,624.9 L604.9,625.2 L605.7,625.5 L609.8,624.3 L622.2,629.0 L626.9,632.9 L633.1,642.2 L640.9,647.7 L640.9,643.8 L644.0,642.2 L650.0,648.7 L650.9,649.1 L649.7,646.7 L650.2,646.1 L653.9,647.5 L658.1,653.9 L662.3,655.6 L666.7,658.7 L673.1,667.4 L686.4,664.8 L684.5,655.2 L678.8,655.1 L675.6,649.6 L669.5,651.1 L668.8,651.0 L664.8,647.7 L660.3,643.1 L656.9,638.9 L657.3,638.2 L660.1,636.8 L663.0,634.1 L668.8,635.5 L677.6,634.2 L673.9,632.4 L673.3,631.2 L672.4,630.7 L672.5,631.9Z" fill="#92C5DE" fill-rule="evenodd" stroke="#FFFFFF" stroke-width="2.0"/>
<path d="M640.9,647.7 L633.1,642.2 L626.9,632.9 L622.2,629.0 L606.1,622.9 L604.0,626.0 L602.0,625.0 L601.9,625.6 L604.3,626.7 L606.7,628.2 L622.2,635.2 L620.7,637.5 L602.0,646.9 L596.5,642.2 L581.8,653.1 L580.2,654.7 L578.5,654.9 L576.5,657.0 L576.9,657.5 L581.6,654.8 L582.3,655.0 L584.2,656.9 L599.7,676.3 L605.6,681.4 L611.5,680.7 L618.0,683.3 L621.2,689.1 L625.2,684.7 L629.0,690.0 L630.0,683.8 L630.8,683.7 L634.3,685.1 L638.4,687.9 L641.7,692.7 L646.5,696.0 L651.4,701.5 L652.5,707.0 L661.3,707.1 L661.6,709.6 L666.8,713.8 L674.9,716.9 L672.9,706.9 L666.2,703.5 L660.1,698.9 L654.1,695.2 L651.5,692.0 L652.8,679.2 L647.8,674.1 L637.2,660.1 L637.3,656.8 L641.5,654.0 L647.4,652.6 L655.9,653.6 L649.7,646.7 L650.2,646.1 L652.8,646.4 L652.1,645.7 L644.0,642.2 L640.9,643.8ZM672.0,707.7 L673.5,715.1 L673.5,715.3ZM665.9,704.5 L671.8,707.4 L672.0,707.5ZM667.3,713.0 L667.0,712.7 L664.2,710.4ZM659.5,699.8 L659.6,699.8 L665.6,704.3ZM649.1,647.7 L653.2,652.2 L653.3,652.3ZM653.3,652.3 L653.1,652.3 L647.4,651.6ZM651.0,687.3 L650.7,688.9 L650.3,691.3ZM651.0,687.3 L651.8,679.5 L651.7,679.7ZM636.6,661.3 L642.4,668.6 L642.4,668.6ZM642.4,668.6 L642.4,668.7 L647.0,674.8ZM642.4,692.0 L642.3,691.8 L639.5,687.6ZM628.9,683.9 L628.7,685.8 L628.4,687.3ZM623.9,684.3 L621.6,687.2 L621.4,687.3ZM605.9,680.3 L604.8,679.4 L603.0,677.9Z" fill="#4393C3" fill-rule="evenodd" stroke="#FFFFFF" stroke-width="2.0"/>
<path d="M581.8,653.1 L596.5,642.2 L602.0,646.9 L620.7,637.5 L622.2,635.2 L606.7,628.2 L604.3,625.9 L606.8,625.2 L605.3,624.3 L604.0,626.0 L588.0,618.0 L585.0,618.0 L578.6,629.7 L577.3,633.1 L575.9,634.6 L577.7,634.0 L578.3,634.5 L576.2,640.3 L573.7,644.6 L573.0,644.5 L572.2,642.8 L572.0,644.7 L571.1,646.5 L570.0,650.0 L567.3,653.6 L567.2,654.3 L569.6,652.7 L571.1,654.0 L571.2,653.8 L575.3,656.5 L580.7,655.6 L581.9,654.8 L585.4,656.8ZM570.9,652.3 L574.8,644.9 L577.1,640.7ZM577.1,640.7 L579.3,635.2 L585.7,618.9ZM580.2,654.7 L575.9,655.4 L575.6,655.4Z" fill="#4393C3" fill-rule="evenodd" stroke="#FFFFFF" stroke-width="2.0"/>
<polyline points="115.9,214.2 129.9,221.5 149.9,227.5 168.2,228.2 176.5,222.2 186.5,218.9 203.2,217.5 213.2,218.2 218.1,221.5" fill="none" stroke="#FFFFFF" stroke-width="2.0"/>
<polyline points="218.1,221.5 219.8,223.2 223.1,233.2 222.5,241.5 214.8,258.2 212.5,284.8 208.2,298.1 212.5,314.8 213.2,327.4 204.8,326.4 199.8,316.4 195.8,314.8 193.8,329.8 179.9,331.4 176.5,341.4 173.9,351.4 176.5,363.1 183.2,364.7 183.8,378.0" fill="none" stroke="#FFFFFF" stroke-width="2.0"/>
<polyline points="218.1,221.5 226.5,222.2 231.5,231.5 234.8,241.5 241.5,249.8 246.5,251.5" fill="none" stroke="#FFFFFF" stroke-width="2.0"/>
<polyline points="183.8,378.0 189.2,400.0 189.2,416.6 203.2,421.6 221.5,421.6 231.5,433.9 246.5,434.9 251.4,439.9" fill="none" stroke="#FFFFFF" stroke-width="2.0"/>
<polyline points="105.9,471.6 126.6,488.2 149.9,503.2 173.2,513.2 203.2,516.5 216.5,522.5 229.8,525.8 243.1,524.8 251.4,516.5 259.8,513.8 266.4,518.2 273.1,523.2 278.1,523.8" fill="none" stroke="#FFFFFF" stroke-width="2.0"/>
<polyline points="133.2,611.4 144.9,599.8 154.9,589.8 163.2,588.1 173.2,583.1 183.2,580.4 189.2,583.8 193.2,596.4 203.2,597.1 208.2,601.4 214.8,599.1 222.5,593.1 229.8,597.1 238.1,599.1 246.5,594.8 251.4,589.8 269.8,585.8 274.8,584.8" fill="none" stroke="#FFFFFF" stroke-width="2.0"/>
<polyline points="399.9,189.9 408.2,201.6 414.9,214.9 417.2,231.5 414.2,248.2 419.9,261.5 428.2,277.5 434.9,279.8 441.5,288.1" fill="none" stroke="#FFFFFF" stroke-width="2.0"/>
<polyline points="623.3,514.9 666.6,516.5 699.9,519.9 736.5,523.9 746.5,523.2" fill="none" stroke="#FFFFFF" stroke-width="2.0"/>
<polyline points="681.6,461.6 671.6,479.9 684.9,489.9 693.2,506.5 699.9,519.9 703.9,536.5 701.6,541.5 678.3,542.5 683.3,553.2 693.2,564.8 679.9,573.1 687.2,594.8" fill="none" stroke="#FFFFFF" stroke-width="2.0"/>
<polyline points="698.2,446.6 710.6,459.9 728.2,456.6 736.5,476.6 744.9,477.2 748.2,493.2 755.8,494.9 757.2,506.5 746.5,523.2" fill="none" stroke="#FFFFFF" stroke-width="2.0"/>
<polyline points="476.5,770.5 475.8,817.8 476.5,864.4 481.5,881.1 480.5,897.7" fill="none" stroke="#FFFFFF" stroke-width="2.0"/>
<polyline points="322.0,466.0 318.0,472.0 322.0,480.0 330.0,478.0 336.0,474.0 339.0,466.0 343.0,460.0" fill="none" stroke="#FFFFFF" stroke-width="2.0"/>
<polyline points="623.0,514.4 608.4,513.0 606.0,514.4 605.6,532.4 603.0,533.4 591.6,531.4" fill="none" stroke="#000000" stroke-width="2.0"/>
<polyline points="483.6,490.0 485.8,487.4" fill="none" stroke="#000000" stroke-width="2.0"/>
</g>
<rect x="857.8" y="654.1" width="28.3" height="20.5" fill="#053061"/>
<rect x="857.8" y="676.6" width="28.3" height="20.5" fill="#2166AC"/>
<rect x="857.8" y="699.1" width="28.3" height="20.5" fill="#4393C3"/>
<rect x="857.8" y="721.6" width="28.3" height="20.5" fill="#92C5DE"/>
<rect x="857.8" y="744.1" width="28.3" height="20.5" fill="#D1E5F0"/>
<rect x="857.8" y="766.6" width="28.3" height="20.5" fill="#FDDBC7"/>
<rect x="857.8" y="789.1" width="28.3" height="20.5" fill="#F4A582"/>
<rect x="857.8" y="811.6" width="28.3" height="20.5" fill="#D6604D"/>
<rect x="857.8" y="834.1" width="28.3" height="20.5" fill="#B2182B"/>
<rect x="857.8" y="856.6" width="28.3" height="20.5" fill="#67001F"/>
<rect x="857.0" y="878.6" width="29.8" height="22.2" fill="#FFFFFF" stroke="#000" stroke-width="1.7"/>
</svg>
<div class="t" id="title">2019ParlEurProp</div>
<div class="t" id="sub">Differenza in punti percentuali tra Des+CD e Sin+CS</div>
<div class="t lg" style="top:656.1px">25/99</div>
<div class="t lg" style="top:678.6px">15/25</div>
<div class="t lg" style="top:701.1px">10/15</div>
<div class="t lg" style="top:723.6px">5/10</div>
<div class="t lg" style="top:746.1px">0/5</div>
<div class="t lg" style="top:768.6px">-5/0</div>
<div class="t lg" style="top:791.1px">-10/-5</div>
<div class="t lg" style="top:813.6px">-15/-10</div>
<div class="t lg" style="top:836.1px">-25/-15</div>
<div class="t lg" style="top:858.6px">-99/-25</div>
<div class="t lg" style="top:881.1px">-</div>

</body></html>
